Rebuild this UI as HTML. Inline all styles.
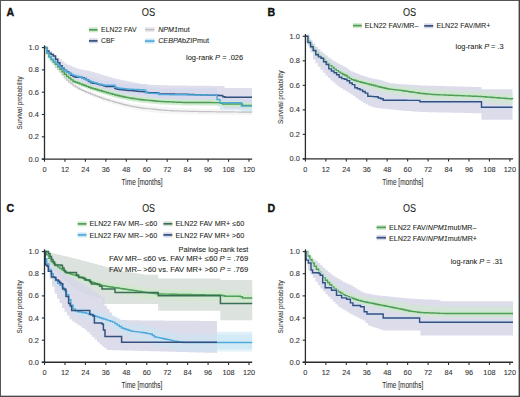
<!DOCTYPE html>
<html><head><meta charset="utf-8"><title>OS Kaplan-Meier</title>
<style>
html,body{margin:0;padding:0;background:#fff;}
body{width:520px;height:397px;overflow:hidden;}
svg{display:block;font-family:"Liberation Sans", sans-serif;}
text{stroke:#3a3a3a;stroke-width:0.08px;paint-order:stroke;}
</style></head><body>
<svg width="520" height="397" viewBox="0 0 520 397">
<rect x="0" y="0" width="520" height="397" fill="#fff"/>
<path d="M44.50 47.60L47.00 47.60L47.00 53.55L49.50 53.55L49.50 57.82L52.00 57.82L52.00 61.16L54.50 61.16L54.50 64.78L57.00 64.78L57.00 67.62L59.50 67.62L59.50 70.26L62.00 70.26L62.00 73.41L64.50 73.41L64.50 76.69L67.00 76.69L67.00 79.11L69.50 79.11L69.50 81.20L72.00 81.20L72.00 83.28L74.50 83.28L74.50 84.84L77.00 84.84L77.00 86.19L79.50 86.19L79.50 87.53L82.00 87.53L82.00 88.63L84.50 88.63L84.50 89.61L87.00 89.61L87.00 90.59L89.50 90.59L89.50 91.57L92.00 91.57L92.00 92.50L94.50 92.50L94.50 93.39L97.00 93.39L97.00 94.29L99.50 94.29L99.50 95.19L102.00 95.19L102.00 96.09L104.50 96.09L104.50 96.86L107.00 96.86L107.00 97.55L109.50 97.55L109.50 98.24L112.00 98.24L112.00 98.92L114.50 98.92L114.50 99.61L117.00 99.61L117.00 100.25L119.50 100.25L119.50 100.86L122.00 100.86L122.00 101.48L124.50 101.48L124.50 102.09L127.00 102.09L127.00 102.70L129.50 102.70L129.50 103.20L132.00 103.20L132.00 103.60L134.50 103.60L134.50 104.00L137.00 104.00L137.00 104.39L139.50 104.39L139.50 104.79L142.00 104.79L142.00 105.12L144.50 105.12L144.50 105.39L147.00 105.39L147.00 105.65L149.50 105.65L149.50 105.91L152.00 105.91L152.00 106.17L154.50 106.17L154.50 106.43L157.00 106.43L157.00 106.69L159.50 106.69L159.50 106.95L162.00 106.95L162.00 107.13L164.50 107.13L164.50 107.30L167.00 107.30L167.00 107.47L169.50 107.47L169.50 107.63L172.00 107.63L172.00 107.80L174.50 107.80L174.50 107.87L177.00 107.87L177.00 107.94L179.50 107.94L179.50 108.01L182.00 108.01L182.00 108.09L184.50 108.09L184.50 108.16L187.00 108.16L187.00 108.23L189.50 108.23L189.50 108.30L192.00 108.30L192.00 108.37L194.50 108.37L194.50 108.44L197.00 108.44L197.00 108.51L199.50 108.51L199.50 108.59L202.00 108.59L202.00 108.62L204.50 108.62L204.50 108.65L207.00 108.65L207.00 108.68L209.50 108.68L209.50 108.71L212.00 108.71L212.00 108.74L214.50 108.74L214.50 108.77L217.00 108.77L217.00 108.80L219.50 108.80L219.50 108.83L222.00 108.83L222.00 108.85L224.50 108.85L224.50 108.88L227.00 108.88L227.00 108.91L229.50 108.91L229.50 108.94L232.00 108.94L232.00 108.97L234.50 108.97L234.50 109.00L237.00 109.00L237.00 109.03L239.50 109.03L239.50 109.06L242.00 109.06L242.00 109.08L244.50 109.08L244.50 109.11L247.00 109.11L247.00 109.14L249.50 109.14L249.50 109.17L252.00 109.17L252.00 109.20L252.00 115.20L252.00 115.17L249.50 115.17L249.50 115.14L247.00 115.14L247.00 115.11L244.50 115.11L244.50 115.08L242.00 115.08L242.00 115.06L239.50 115.06L239.50 115.03L237.00 115.03L237.00 115.00L234.50 115.00L234.50 114.97L232.00 114.97L232.00 114.94L229.50 114.94L229.50 114.91L227.00 114.91L227.00 114.88L224.50 114.88L224.50 114.85L222.00 114.85L222.00 114.83L219.50 114.83L219.50 114.80L217.00 114.80L217.00 114.77L214.50 114.77L214.50 114.74L212.00 114.74L212.00 114.71L209.50 114.71L209.50 114.68L207.00 114.68L207.00 114.65L204.50 114.65L204.50 114.62L202.00 114.62L202.00 114.59L199.50 114.59L199.50 114.51L197.00 114.51L197.00 114.44L194.50 114.44L194.50 114.37L192.00 114.37L192.00 114.30L189.50 114.30L189.50 114.23L187.00 114.23L187.00 114.16L184.50 114.16L184.50 114.09L182.00 114.09L182.00 114.01L179.50 114.01L179.50 113.94L177.00 113.94L177.00 113.87L174.50 113.87L174.50 113.80L172.00 113.80L172.00 113.63L169.50 113.63L169.50 113.47L167.00 113.47L167.00 113.30L164.50 113.30L164.50 113.13L162.00 113.13L162.00 112.95L159.50 112.95L159.50 112.69L157.00 112.69L157.00 112.43L154.50 112.43L154.50 112.17L152.00 112.17L152.00 111.91L149.50 111.91L149.50 111.65L147.00 111.65L147.00 111.39L144.50 111.39L144.50 111.12L142.00 111.12L142.00 110.75L139.50 110.75L139.50 110.28L137.00 110.28L137.00 109.80L134.50 109.80L134.50 109.33L132.00 109.33L132.00 108.86L129.50 108.86L129.50 108.27L127.00 108.27L127.00 107.57L124.50 107.57L124.50 106.88L122.00 106.88L122.00 106.18L119.50 106.18L119.50 105.48L117.00 105.48L117.00 104.74L114.50 104.74L114.50 103.96L112.00 103.96L112.00 103.18L109.50 103.18L109.50 102.40L107.00 102.40L107.00 101.62L104.50 101.62L104.50 100.75L102.00 100.75L102.00 99.74L99.50 99.74L99.50 98.73L97.00 98.73L97.00 97.73L94.50 97.73L94.50 96.72L92.00 96.72L92.00 95.68L89.50 95.68L89.50 94.58L87.00 94.58L87.00 93.48L84.50 93.48L84.50 92.38L82.00 92.38L82.00 91.16L79.50 91.16L79.50 89.68L77.00 89.68L77.00 88.20L74.50 88.20L74.50 86.50L72.00 86.50L72.00 84.26L69.50 84.26L69.50 82.01L67.00 82.01L67.00 79.43L64.50 79.43L64.50 75.97L62.00 75.97L62.00 72.64L59.50 72.64L59.50 69.78L57.00 69.78L57.00 66.72L54.50 66.72L54.50 62.84L52.00 62.84L52.00 59.18L49.50 59.18L49.50 54.37L47.00 54.37L47.00 47.60L44.50 47.60Z" fill="#ececee" fill-opacity="0.50" stroke="none"/>
<path d="M44.50 47.60L47.00 47.60L47.00 52.70L49.50 52.70L49.50 56.04L52.00 56.04L52.00 58.37L54.50 58.37L54.50 60.39L57.00 60.39L57.00 62.59L59.50 62.59L59.50 64.84L62.00 64.84L62.00 66.70L64.50 66.70L64.50 68.45L67.00 68.45L67.00 69.76L69.50 69.76L69.50 70.88L72.00 70.88L72.00 72.00L74.50 72.00L74.50 72.65L77.00 72.65L77.00 73.11L79.50 73.11L79.50 73.87L82.00 73.87L82.00 74.76L84.50 74.76L84.50 75.65L87.00 75.65L87.00 76.56L89.50 76.56L89.50 77.47L92.00 77.47L92.00 78.20L94.50 78.20L94.50 78.84L97.00 78.84L97.00 79.48L99.50 79.48L99.50 80.11L102.00 80.11L102.00 80.75L104.50 80.75L104.50 80.95L107.00 80.95L107.00 80.87L109.50 80.87L109.50 80.78L112.00 80.78L112.00 80.69L114.50 80.69L114.50 82.10L117.00 82.10L117.00 83.26L119.50 83.26L119.50 83.41L122.00 83.41L122.00 83.57L124.50 83.57L124.50 83.73L127.00 83.73L127.00 83.89L129.50 83.89L129.50 84.00L132.00 84.00L132.00 84.06L134.50 84.06L134.50 84.12L137.00 84.12L137.00 84.18L139.50 84.18L139.50 84.24L142.00 84.24L142.00 84.30L144.50 84.30L144.50 84.36L147.00 84.36L147.00 87.63L149.50 87.63L149.50 87.61L152.00 87.61L152.00 87.58L154.50 87.58L154.50 87.56L157.00 87.56L157.00 87.53L159.50 87.53L159.50 88.58L162.00 88.58L162.00 88.54L164.50 88.54L164.50 88.50L167.00 88.50L167.00 88.46L169.50 88.46L169.50 88.42L172.00 88.42L172.00 88.37L174.50 88.37L174.50 88.33L177.00 88.33L177.00 88.29L179.50 88.29L179.50 88.25L182.00 88.25L182.00 88.20L184.50 88.20L184.50 88.17L187.00 88.17L187.00 88.17L189.50 88.17L189.50 88.17L192.00 88.17L192.00 88.18L194.50 88.18L194.50 88.18L197.00 88.18L197.00 88.18L199.50 88.18L199.50 88.18L202.00 88.18L202.00 88.19L204.50 88.19L204.50 88.19L207.00 88.19L207.00 88.19L209.50 88.19L209.50 88.19L212.00 88.19L212.00 88.20L214.50 88.20L214.50 88.20L217.00 88.20L217.00 92.50L219.50 92.50L219.50 92.80L220.00 92.80L220.00 95.70L222.00 95.70L222.00 95.70L224.50 95.70L224.50 95.70L227.00 95.70L227.00 95.70L229.50 95.70L229.50 95.70L232.00 95.70L232.00 95.70L234.50 95.70L234.50 95.70L237.00 95.70L237.00 95.70L239.50 95.70L239.50 95.70L241.50 95.70L241.50 99.10L242.00 99.10L242.00 99.10L244.50 99.10L244.50 99.10L247.00 99.10L247.00 99.10L249.50 99.10L249.50 99.10L252.00 99.10L252.00 99.10L252.00 113.10L252.00 113.10L249.50 113.10L249.50 113.10L247.00 113.10L247.00 113.10L244.50 113.10L244.50 113.10L242.00 113.10L242.00 113.10L241.50 113.10L241.50 109.70L239.50 109.70L239.50 109.70L237.00 109.70L237.00 109.70L234.50 109.70L234.50 109.70L232.00 109.70L232.00 109.70L229.50 109.70L229.50 109.70L227.00 109.70L227.00 109.70L224.50 109.70L224.50 109.70L222.00 109.70L222.00 109.70L220.00 109.70L220.00 106.80L219.50 106.80L219.50 106.50L217.00 106.50L217.00 102.15L214.50 102.15L214.50 102.09L212.00 102.09L212.00 102.03L209.50 102.03L209.50 101.97L207.00 101.97L207.00 101.92L204.50 101.92L204.50 101.86L202.00 101.86L202.00 101.80L199.50 101.80L199.50 101.74L197.00 101.74L197.00 101.68L194.50 101.68L194.50 101.62L192.00 101.62L192.00 101.56L189.50 101.56L189.50 101.50L187.00 101.50L187.00 101.44L184.50 101.44L184.50 101.36L182.00 101.36L182.00 101.28L179.50 101.28L179.50 101.20L177.00 101.20L177.00 101.12L174.50 101.12L174.50 101.03L172.00 101.03L172.00 100.95L169.50 100.95L169.50 100.87L167.00 100.87L167.00 100.79L164.50 100.79L164.50 100.71L162.00 100.71L162.00 100.62L159.50 100.62L159.50 99.44L157.00 99.44L157.00 99.33L154.50 99.33L154.50 99.22L152.00 99.22L152.00 99.11L149.50 99.11L149.50 99.00L147.00 99.00L147.00 95.59L144.50 95.59L144.50 95.38L142.00 95.38L142.00 95.17L139.50 95.17L139.50 94.96L137.00 94.96L137.00 94.76L134.50 94.76L134.50 94.55L132.00 94.55L132.00 94.34L129.50 94.34L129.50 94.08L127.00 94.08L127.00 93.77L124.50 93.77L124.50 93.45L122.00 93.45L122.00 93.13L119.50 93.13L119.50 92.81L117.00 92.81L117.00 91.50L114.50 91.50L114.50 89.91L112.00 89.91L112.00 89.82L109.50 89.82L109.50 89.73L107.00 89.73L107.00 89.65L104.50 89.65L104.50 89.26L102.00 89.26L102.00 88.43L99.50 88.43L99.50 87.60L97.00 87.60L97.00 86.77L94.50 86.77L94.50 85.94L92.00 85.94L92.00 85.00L89.50 85.00L89.50 83.88L87.00 83.88L87.00 82.75L84.50 82.75L84.50 81.63L82.00 81.63L82.00 80.50L79.50 80.50L79.50 79.51L77.00 79.51L77.00 78.80L74.50 78.80L74.50 77.89L72.00 77.89L72.00 76.48L69.50 76.48L69.50 75.07L67.00 75.07L67.00 73.47L64.50 73.47L64.50 71.38L62.00 71.38L62.00 69.18L59.50 69.18L59.50 66.54L57.00 66.54L57.00 63.93L54.50 63.93L54.50 61.43L52.00 61.43L52.00 58.52L49.50 58.52L49.50 54.44L47.00 54.44L47.00 47.60L44.50 47.60Z" fill="#c9e6f4" fill-opacity="0.75" stroke="none"/>
<path d="M44.50 47.60L47.00 47.60L47.00 48.96L49.50 48.96L49.50 50.93L52.00 50.93L52.00 53.33L54.50 53.33L54.50 55.52L57.00 55.52L57.00 57.65L59.50 57.65L59.50 59.62L62.00 59.62L62.00 61.50L64.50 61.50L64.50 63.38L67.00 63.38L67.00 64.63L69.50 64.63L69.50 65.64L72.00 65.64L72.00 66.65L74.50 66.65L74.50 67.66L77.00 67.66L77.00 68.68L79.50 68.68L79.50 69.34L82.00 69.34L82.00 69.83L84.50 69.83L84.50 70.33L87.00 70.33L87.00 70.83L89.50 70.83L89.50 71.32L92.00 71.32L92.00 71.98L94.50 71.98L94.50 72.74L97.00 72.74L97.00 73.49L99.50 73.49L99.50 74.24L102.00 74.24L102.00 75.00L104.50 75.00L104.50 75.74L107.00 75.74L107.00 76.47L109.50 76.47L109.50 77.21L112.00 77.21L112.00 77.94L114.50 77.94L114.50 78.68L117.00 78.68L117.00 79.29L119.50 79.29L119.50 79.80L122.00 79.80L122.00 80.32L124.50 80.32L124.50 80.84L127.00 80.84L127.00 81.35L129.50 81.35L129.50 81.86L132.00 81.86L132.00 82.35L134.50 82.35L134.50 82.85L137.00 82.85L137.00 83.35L139.50 83.35L139.50 83.84L142.00 83.84L142.00 84.17L144.50 84.17L144.50 84.33L147.00 84.33L147.00 84.49L149.50 84.49L149.50 84.64L152.00 84.64L152.00 84.80L154.50 84.80L154.50 84.96L157.00 84.96L157.00 85.11L159.50 85.11L159.50 85.27L162.00 85.27L162.00 85.33L164.50 85.33L164.50 85.36L167.00 85.36L167.00 85.39L169.50 85.39L169.50 85.42L172.00 85.42L172.00 85.45L174.50 85.45L174.50 85.48L177.00 85.48L177.00 85.51L179.50 85.51L179.50 85.54L182.00 85.54L182.00 85.57L184.50 85.57L184.50 85.61L187.00 85.61L187.00 85.63L189.50 85.63L189.50 85.66L192.00 85.66L192.00 85.68L194.50 85.68L194.50 85.71L197.00 85.71L197.00 85.74L199.50 85.74L199.50 85.76L202.00 85.76L202.00 85.79L204.50 85.79L204.50 85.82L207.00 85.82L207.00 85.84L209.50 85.84L209.50 85.87L212.00 85.87L212.00 85.89L214.50 85.89L214.50 85.92L217.00 85.92L217.00 85.95L219.50 85.95L219.50 85.97L222.00 85.97L222.00 86.00L224.50 86.00L224.50 88.00L227.00 88.00L227.00 88.00L229.50 88.00L229.50 88.00L232.00 88.00L232.00 88.00L234.50 88.00L234.50 88.00L237.00 88.00L237.00 88.00L239.50 88.00L239.50 88.00L242.00 88.00L242.00 88.00L244.50 88.00L244.50 88.00L247.00 88.00L247.00 88.00L249.50 88.00L249.50 88.00L252.00 88.00L252.00 88.00L252.00 108.50L252.00 108.50L249.50 108.50L249.50 108.50L247.00 108.50L247.00 108.50L244.50 108.50L244.50 108.50L242.00 108.50L242.00 108.50L239.50 108.50L239.50 108.50L237.00 108.50L237.00 108.50L234.50 108.50L234.50 108.50L232.00 108.50L232.00 108.50L229.50 108.50L229.50 108.50L227.00 108.50L227.00 108.50L224.50 108.50L224.50 105.00L222.00 105.00L222.00 104.87L219.50 104.87L219.50 104.74L217.00 104.74L217.00 104.61L214.50 104.61L214.50 104.47L212.00 104.47L212.00 104.34L209.50 104.34L209.50 104.21L207.00 104.21L207.00 104.08L204.50 104.08L204.50 103.95L202.00 103.95L202.00 103.82L199.50 103.82L199.50 103.68L197.00 103.68L197.00 103.55L194.50 103.55L194.50 103.42L192.00 103.42L192.00 103.29L189.50 103.29L189.50 103.16L187.00 103.16L187.00 103.03L184.50 103.03L184.50 102.88L182.00 102.88L182.00 102.72L179.50 102.72L179.50 102.56L177.00 102.56L177.00 102.41L174.50 102.41L174.50 102.25L172.00 102.25L172.00 102.09L169.50 102.09L169.50 101.94L167.00 101.94L167.00 101.78L164.50 101.78L164.50 101.62L162.00 101.62L162.00 101.45L159.50 101.45L159.50 101.21L157.00 101.21L157.00 100.97L154.50 100.97L154.50 100.73L152.00 100.73L152.00 100.49L149.50 100.49L149.50 100.25L147.00 100.25L147.00 100.01L144.50 100.01L144.50 99.77L142.00 99.77L142.00 99.53L139.50 99.53L139.50 99.29L137.00 99.29L137.00 99.05L134.50 99.05L134.50 98.58L132.00 98.58L132.00 98.06L129.50 98.06L129.50 97.54L127.00 97.54L127.00 97.02L124.50 97.02L124.50 96.50L122.00 96.50L122.00 95.83L119.50 95.83L119.50 95.15L117.00 95.15L117.00 94.48L114.50 94.48L114.50 93.81L112.00 93.81L112.00 93.13L109.50 93.13L109.50 92.38L107.00 92.38L107.00 91.62L104.50 91.62L104.50 90.85L102.00 90.85L102.00 90.08L99.50 90.08L99.50 89.31L97.00 89.31L97.00 88.50L94.50 88.50L94.50 87.67L92.00 87.67L92.00 86.83L89.50 86.83L89.50 86.00L87.00 86.00L87.00 85.17L84.50 85.17L84.50 84.00L82.00 84.00L82.00 82.75L79.50 82.75L79.50 81.50L77.00 81.50L77.00 80.25L74.50 80.25L74.50 79.00L72.00 79.00L72.00 77.12L69.50 77.12L69.50 75.25L67.00 75.25L67.00 73.38L64.50 73.38L64.50 71.50L62.00 71.50L62.00 69.40L59.50 69.40L59.50 66.40L57.00 66.40L57.00 63.40L54.50 63.40L54.50 60.40L52.00 60.40L52.00 57.05L49.50 57.05L49.50 52.33L47.00 52.33L47.00 47.60L44.50 47.60Z" fill="#d6d6e8" fill-opacity="0.80" stroke="none"/>
<path d="M44.50 47.60L47.00 47.60L47.00 53.12L49.50 53.12L49.50 56.75L52.00 56.75L52.00 59.63L54.50 59.63L54.50 62.17L57.00 62.17L57.00 64.86L59.50 64.86L59.50 67.59L62.00 67.59L62.00 70.29L64.50 70.29L64.50 72.98L67.00 72.98L67.00 75.11L69.50 75.11L69.50 77.02L72.00 77.02L72.00 78.93L74.50 78.93L74.50 80.07L77.00 80.07L77.00 80.92L79.50 80.92L79.50 81.76L82.00 81.76L82.00 82.63L84.50 82.63L84.50 83.50L87.00 83.50L87.00 84.37L89.50 84.37L89.50 85.25L92.00 85.25L92.00 85.99L94.50 85.99L94.50 86.67L97.00 86.67L97.00 87.34L99.50 87.34L99.50 88.02L102.00 88.02L102.00 88.69L104.50 88.69L104.50 89.36L107.00 89.36L107.00 90.02L109.50 90.02L109.50 90.68L112.00 90.68L112.00 91.34L114.50 91.34L114.50 92.00L117.00 92.00L117.00 92.58L119.50 92.58L119.50 93.10L122.00 93.10L122.00 93.62L124.50 93.62L124.50 94.13L127.00 94.13L127.00 94.65L129.50 94.65L129.50 95.09L132.00 95.09L132.00 95.44L134.50 95.44L134.50 95.80L137.00 95.80L137.00 96.16L139.50 96.16L139.50 96.51L142.00 96.51L142.00 96.81L144.50 96.81L144.50 97.05L147.00 97.05L147.00 97.28L149.50 97.28L149.50 97.52L152.00 97.52L152.00 97.75L154.50 97.75L154.50 97.98L157.00 97.98L157.00 98.22L159.50 98.22L159.50 98.45L162.00 98.45L162.00 98.58L164.50 98.58L164.50 98.69L167.00 98.69L167.00 98.79L169.50 98.79L169.50 98.90L172.00 98.90L172.00 99.00L174.50 99.00L174.50 99.10L177.00 99.10L177.00 99.21L179.50 99.21L179.50 99.31L182.00 99.31L182.00 99.42L184.50 99.42L184.50 99.50L187.00 99.50L187.00 99.51L189.50 99.51L189.50 99.52L192.00 99.52L192.00 99.52L194.50 99.52L194.50 99.53L197.00 99.53L197.00 99.54L199.50 99.54L199.50 99.54L202.00 99.54L202.00 99.55L204.50 99.55L204.50 99.56L207.00 99.56L207.00 99.56L209.50 99.56L209.50 99.57L212.00 99.57L212.00 99.58L214.50 99.58L214.50 99.58L217.00 99.58L217.00 99.59L219.50 99.59L219.50 99.60L222.00 99.60L222.00 101.00L224.50 101.00L224.50 101.00L227.00 101.00L227.00 101.00L229.50 101.00L229.50 101.00L232.00 101.00L232.00 101.00L234.50 101.00L234.50 101.00L237.00 101.00L237.00 101.00L239.50 101.00L239.50 101.00L242.00 101.00L242.00 102.40L244.50 102.40L244.50 102.40L247.00 102.40L247.00 102.40L249.50 102.40L249.50 102.40L252.00 102.40L252.00 102.40L252.00 108.40L252.00 108.40L249.50 108.40L249.50 108.40L247.00 108.40L247.00 108.40L244.50 108.40L244.50 108.40L242.00 108.40L242.00 107.00L239.50 107.00L239.50 107.00L237.00 107.00L237.00 107.00L234.50 107.00L234.50 107.00L232.00 107.00L232.00 107.00L229.50 107.00L229.50 107.00L227.00 107.00L227.00 107.00L224.50 107.00L224.50 107.00L222.00 107.00L222.00 105.60L219.50 105.60L219.50 105.59L217.00 105.59L217.00 105.58L214.50 105.58L214.50 105.58L212.00 105.58L212.00 105.57L209.50 105.57L209.50 105.56L207.00 105.56L207.00 105.56L204.50 105.56L204.50 105.55L202.00 105.55L202.00 105.54L199.50 105.54L199.50 105.54L197.00 105.54L197.00 105.53L194.50 105.53L194.50 105.52L192.00 105.52L192.00 105.52L189.50 105.52L189.50 105.51L187.00 105.51L187.00 105.50L184.50 105.50L184.50 105.42L182.00 105.42L182.00 105.31L179.50 105.31L179.50 105.21L177.00 105.21L177.00 105.10L174.50 105.10L174.50 105.00L172.00 105.00L172.00 104.90L169.50 104.90L169.50 104.79L167.00 104.79L167.00 104.69L164.50 104.69L164.50 104.58L162.00 104.58L162.00 104.45L159.50 104.45L159.50 104.22L157.00 104.22L157.00 103.98L154.50 103.98L154.50 103.75L152.00 103.75L152.00 103.52L149.50 103.52L149.50 103.28L147.00 103.28L147.00 103.05L144.50 103.05L144.50 102.81L142.00 102.81L142.00 102.51L139.50 102.51L139.50 102.16L137.00 102.16L137.00 101.80L134.50 101.80L134.50 101.44L132.00 101.44L132.00 101.09L129.50 101.09L129.50 100.63L127.00 100.63L127.00 100.08L124.50 100.08L124.50 99.53L122.00 99.53L122.00 98.97L119.50 98.97L119.50 98.42L117.00 98.42L117.00 97.77L114.50 97.77L114.50 97.01L112.00 97.01L112.00 96.24L109.50 96.24L109.50 95.47L107.00 95.47L107.00 94.70L104.50 94.70L104.50 93.92L102.00 93.92L102.00 93.13L99.50 93.13L99.50 92.34L97.00 92.34L97.00 91.54L94.50 91.54L94.50 90.75L92.00 90.75L92.00 89.88L89.50 89.88L89.50 88.87L87.00 88.87L87.00 87.86L84.50 87.86L84.50 86.85L82.00 86.85L82.00 85.85L79.50 85.85L79.50 84.85L77.00 84.85L77.00 83.85L74.50 83.85L74.50 82.55L72.00 82.55L72.00 80.46L69.50 80.46L69.50 78.37L67.00 78.37L67.00 76.06L64.50 76.06L64.50 73.17L62.00 73.17L62.00 70.26L59.50 70.26L59.50 67.29L57.00 67.29L57.00 64.34L54.50 64.34L54.50 61.51L52.00 61.51L52.00 58.27L49.50 58.27L49.50 54.18L47.00 54.18L47.00 47.60L44.50 47.60Z" fill="#cfe9cc" fill-opacity="0.85" stroke="none"/>
<path d="M44.50 47.60L46.70 47.60L46.70 53.19L48.90 53.19L48.90 57.70L51.10 57.70L51.10 60.65L53.30 60.65L53.30 63.95L55.50 63.95L55.50 67.05L57.70 67.05L57.70 69.47L59.90 69.47L59.90 71.89L62.10 71.89L62.10 74.83L64.30 74.83L64.30 77.79L66.50 77.79L66.50 80.13L68.70 80.13L68.70 82.03L70.90 82.03L70.90 83.94L73.10 83.94L73.10 85.73L75.30 85.73L75.30 86.97L77.50 86.97L77.50 88.22L79.70 88.22L79.70 89.46L81.90 89.46L81.90 90.47L84.10 90.47L84.10 91.38L86.30 91.38L86.30 92.30L88.50 92.30L88.50 93.21L90.70 93.21L90.70 94.11L92.90 94.11L92.90 94.95L95.10 94.95L95.10 95.79L97.30 95.79L97.30 96.63L99.50 96.63L99.50 97.47L101.70 97.47L101.70 98.30L103.90 98.30L103.90 99.06L106.10 99.06L106.10 99.71L108.30 99.71L108.30 100.36L110.50 100.36L110.50 101.00L112.70 101.00L112.70 101.65L114.90 101.65L114.90 102.29L117.10 102.29L117.10 102.89L119.30 102.89L119.30 103.47L121.50 103.47L121.50 104.05L123.70 104.05L123.70 104.62L125.90 104.62L125.90 105.20L128.10 105.20L128.10 105.77L130.30 105.77L130.30 106.17L132.50 106.17L132.50 106.55L134.70 106.55L134.70 106.93L136.90 106.93L136.90 107.32L139.10 107.32L139.10 107.70L141.30 107.70L141.30 108.05L143.50 108.05L143.50 108.28L145.70 108.28L145.70 108.51L147.90 108.51L147.90 108.74L150.10 108.74L150.10 108.97L152.30 108.97L152.30 109.20L154.50 109.20L154.50 109.43L156.70 109.43L156.70 109.66L158.90 109.66L158.90 109.89L161.10 109.89L161.10 110.07L163.30 110.07L163.30 110.22L165.50 110.22L165.50 110.37L167.70 110.37L167.70 110.51L169.90 110.51L169.90 110.66L172.10 110.66L172.10 110.80L174.30 110.80L174.30 110.87L176.50 110.87L176.50 110.93L178.70 110.93L178.70 110.99L180.90 110.99L180.90 111.05L183.10 111.05L183.10 111.12L185.30 111.12L185.30 111.18L187.50 111.18L187.50 111.24L189.70 111.24L189.70 111.31L191.90 111.31L191.90 111.37L194.10 111.37L194.10 111.43L196.30 111.43L196.30 111.49L198.50 111.49L198.50 111.56L200.70 111.56L200.70 111.61L202.90 111.61L202.90 111.63L205.10 111.63L205.10 111.66L207.30 111.66L207.30 111.68L209.50 111.68L209.50 111.71L211.70 111.71L211.70 111.73L213.90 111.73L213.90 111.76L216.10 111.76L216.10 111.79L218.30 111.79L218.30 111.81L220.50 111.81L220.50 111.84L222.70 111.84L222.70 111.86L224.90 111.86L224.90 111.89L227.10 111.89L227.10 111.91L229.30 111.91L229.30 111.94L231.50 111.94L231.50 111.96L233.70 111.96L233.70 111.99L235.90 111.99L235.90 112.01L238.10 112.01L238.10 112.04L240.30 112.04L240.30 112.06L242.50 112.06L242.50 112.09L244.70 112.09L244.70 112.12L246.90 112.12L246.90 112.14L249.10 112.14L249.10 112.17L251.30 112.17L251.30 112.19L252.00 112.19L252.00 112.20" fill="none" stroke="#c4c1c6" stroke-width="1.20" stroke-linejoin="miter" />
<path d="M44.50 47.60L46.70 47.60L46.70 52.98L48.90 52.98L48.90 56.72L51.10 56.72L51.10 59.61L53.30 59.61L53.30 61.97L55.50 61.97L55.50 64.36L57.70 64.36L57.70 66.87L59.90 66.87L59.90 69.39L62.10 69.39L62.10 71.84L64.30 71.84L64.30 74.30L66.50 74.30L66.50 76.34L68.70 76.34L68.70 78.10L70.90 78.10L70.90 79.86L73.10 79.86L73.10 81.45L75.30 81.45L75.30 82.26L77.50 82.26L77.50 83.07L79.70 83.07L79.70 83.88L81.90 83.88L81.90 84.70L84.10 84.70L84.10 85.53L86.30 85.53L86.30 86.36L88.50 86.36L88.50 87.19L90.70 87.19L90.70 87.99L92.90 87.99L92.90 88.63L95.10 88.63L95.10 89.28L97.30 89.28L97.30 89.93L99.50 89.93L99.50 90.57L101.70 90.57L101.70 91.22L103.90 91.22L103.90 91.86L106.10 91.86L106.10 92.49L108.30 92.49L108.30 93.11L110.50 93.11L110.50 93.74L112.70 93.74L112.70 94.37L114.90 94.37L114.90 95.00L117.10 95.00L117.10 95.52L119.30 95.52L119.30 95.99L121.50 95.99L121.50 96.46L123.70 96.46L123.70 96.94L125.90 96.94L125.90 97.41L128.10 97.41L128.10 97.88L130.30 97.88L130.30 98.20L132.50 98.20L132.50 98.51L134.70 98.51L134.70 98.83L136.90 98.83L136.90 99.14L139.10 99.14L139.10 99.46L141.30 99.46L141.30 99.75L143.50 99.75L143.50 99.95L145.70 99.95L145.70 100.16L147.90 100.16L147.90 100.37L150.10 100.37L150.10 100.57L152.30 100.57L152.30 100.78L154.50 100.78L154.50 100.98L156.70 100.98L156.70 101.19L158.90 101.19L158.90 101.40L161.10 101.40L161.10 101.55L163.30 101.55L163.30 101.64L165.50 101.64L165.50 101.73L167.70 101.73L167.70 101.82L169.90 101.82L169.90 101.91L172.10 101.91L172.10 102.00L174.30 102.00L174.30 102.10L176.50 102.10L176.50 102.19L178.70 102.19L178.70 102.28L180.90 102.28L180.90 102.37L183.10 102.37L183.10 102.46L185.30 102.46L185.30 102.50L187.50 102.50L187.50 102.51L189.70 102.51L189.70 102.52L191.90 102.52L191.90 102.52L194.10 102.52L194.10 102.53L196.30 102.53L196.30 102.53L198.50 102.53L198.50 102.54L200.70 102.54L200.70 102.55L202.90 102.55L202.90 102.55L205.10 102.55L205.10 102.56L207.30 102.56L207.30 102.56L209.50 102.56L209.50 102.57L211.70 102.57L211.70 102.58L213.90 102.58L213.90 102.58L216.10 102.58L216.10 102.59L218.30 102.59L218.30 102.60L220.50 102.60L220.50 103.30L222.70 103.30L222.70 104.00L224.90 104.00L224.90 104.00L227.10 104.00L227.10 104.00L229.30 104.00L229.30 104.00L231.50 104.00L231.50 104.00L233.70 104.00L233.70 104.00L235.90 104.00L235.90 104.00L238.10 104.00L238.10 104.00L240.30 104.00L240.30 104.00L242.50 104.00L242.50 105.40L244.70 105.40L244.70 105.40L246.90 105.40L246.90 105.40L249.10 105.40L249.10 105.40L251.30 105.40L251.30 105.40L252.00 105.40L252.00 105.40" fill="none" stroke="#c4eac4" stroke-width="3.80" stroke-opacity="0.7" stroke-linejoin="round"/><path d="M44.50 47.60L46.70 47.60L46.70 52.98L48.90 52.98L48.90 56.72L51.10 56.72L51.10 59.61L53.30 59.61L53.30 61.97L55.50 61.97L55.50 64.36L57.70 64.36L57.70 66.87L59.90 66.87L59.90 69.39L62.10 69.39L62.10 71.84L64.30 71.84L64.30 74.30L66.50 74.30L66.50 76.34L68.70 76.34L68.70 78.10L70.90 78.10L70.90 79.86L73.10 79.86L73.10 81.45L75.30 81.45L75.30 82.26L77.50 82.26L77.50 83.07L79.70 83.07L79.70 83.88L81.90 83.88L81.90 84.70L84.10 84.70L84.10 85.53L86.30 85.53L86.30 86.36L88.50 86.36L88.50 87.19L90.70 87.19L90.70 87.99L92.90 87.99L92.90 88.63L95.10 88.63L95.10 89.28L97.30 89.28L97.30 89.93L99.50 89.93L99.50 90.57L101.70 90.57L101.70 91.22L103.90 91.22L103.90 91.86L106.10 91.86L106.10 92.49L108.30 92.49L108.30 93.11L110.50 93.11L110.50 93.74L112.70 93.74L112.70 94.37L114.90 94.37L114.90 95.00L117.10 95.00L117.10 95.52L119.30 95.52L119.30 95.99L121.50 95.99L121.50 96.46L123.70 96.46L123.70 96.94L125.90 96.94L125.90 97.41L128.10 97.41L128.10 97.88L130.30 97.88L130.30 98.20L132.50 98.20L132.50 98.51L134.70 98.51L134.70 98.83L136.90 98.83L136.90 99.14L139.10 99.14L139.10 99.46L141.30 99.46L141.30 99.75L143.50 99.75L143.50 99.95L145.70 99.95L145.70 100.16L147.90 100.16L147.90 100.37L150.10 100.37L150.10 100.57L152.30 100.57L152.30 100.78L154.50 100.78L154.50 100.98L156.70 100.98L156.70 101.19L158.90 101.19L158.90 101.40L161.10 101.40L161.10 101.55L163.30 101.55L163.30 101.64L165.50 101.64L165.50 101.73L167.70 101.73L167.70 101.82L169.90 101.82L169.90 101.91L172.10 101.91L172.10 102.00L174.30 102.00L174.30 102.10L176.50 102.10L176.50 102.19L178.70 102.19L178.70 102.28L180.90 102.28L180.90 102.37L183.10 102.37L183.10 102.46L185.30 102.46L185.30 102.50L187.50 102.50L187.50 102.51L189.70 102.51L189.70 102.52L191.90 102.52L191.90 102.52L194.10 102.52L194.10 102.53L196.30 102.53L196.30 102.53L198.50 102.53L198.50 102.54L200.70 102.54L200.70 102.55L202.90 102.55L202.90 102.55L205.10 102.55L205.10 102.56L207.30 102.56L207.30 102.56L209.50 102.56L209.50 102.57L211.70 102.57L211.70 102.58L213.90 102.58L213.90 102.58L216.10 102.58L216.10 102.59L218.30 102.59L218.30 102.60L220.50 102.60L220.50 103.30L222.70 103.30L222.70 104.00L224.90 104.00L224.90 104.00L227.10 104.00L227.10 104.00L229.30 104.00L229.30 104.00L231.50 104.00L231.50 104.00L233.70 104.00L233.70 104.00L235.90 104.00L235.90 104.00L238.10 104.00L238.10 104.00L240.30 104.00L240.30 104.00L242.50 104.00L242.50 105.40L244.70 105.40L244.70 105.40L246.90 105.40L246.90 105.40L249.10 105.40L249.10 105.40L251.30 105.40L251.30 105.40L252.00 105.40L252.00 105.40" fill="none" stroke="#4f9d58" stroke-width="1.40" stroke-linejoin="miter" />
<path d="M44.50 47.60L46.70 47.60L46.70 50.98L48.90 50.98L48.90 53.36L51.10 53.36L51.10 54.47L53.30 54.47L53.30 56.09L55.50 56.09L55.50 59.31L57.70 59.31L57.70 62.84L59.90 62.84L59.90 65.86L62.10 65.86L62.10 68.33L64.30 68.33L64.30 70.18L66.50 70.18L66.50 71.81L68.70 71.81L68.70 73.46L70.90 73.46L70.90 75.13L73.10 75.13L73.10 76.62L75.30 76.62L75.30 77.30L77.50 77.30L77.50 77.30L79.70 77.30L79.70 77.30L81.90 77.30L81.90 77.84L84.10 77.84L84.10 78.59L86.30 78.59L86.30 79.75L88.50 79.75L88.50 81.38L90.70 81.38L90.70 82.85L92.90 82.85L92.90 83.23L95.10 83.23L95.10 83.61L97.30 83.61L97.30 84.00L99.50 84.00L99.50 84.63L101.70 84.63L101.70 85.35L103.90 85.35L103.90 86.07L106.10 86.07L106.10 86.60L108.30 86.60L108.30 86.60L110.50 86.60L110.50 86.60L112.70 86.60L112.70 86.60L114.90 86.60L114.90 88.43L117.10 88.43L117.10 89.25L119.30 89.25L119.30 89.48L121.50 89.48L121.50 89.71L123.70 89.71L123.70 89.94L125.90 89.94L125.90 90.16L128.10 90.16L128.10 90.39L130.30 90.39L130.30 90.60L132.50 90.60L132.50 90.81L134.70 90.81L134.70 91.02L136.90 91.02L136.90 91.23L139.10 91.23L139.10 91.44L141.30 91.44L141.30 91.62L143.50 91.62L143.50 91.73L145.70 91.73L145.70 92.43L147.90 92.43L147.90 92.73L150.10 92.73L150.10 92.77L152.30 92.77L152.30 92.81L154.50 92.81L154.50 92.85L156.70 92.85L156.70 92.89L158.90 92.89L158.90 93.91L161.10 93.91L161.10 93.95L163.30 93.95L163.30 93.98L165.50 93.98L165.50 94.02L167.70 94.02L167.70 94.05L169.90 94.05L169.90 94.08L172.10 94.08L172.10 94.12L174.30 94.12L174.30 94.15L176.50 94.15L176.50 94.18L178.70 94.18L178.70 94.22L180.90 94.22L180.90 94.25L183.10 94.25L183.10 94.29L185.30 94.29L185.30 94.35L187.50 94.35L187.50 94.43L189.70 94.43L189.70 94.51L191.90 94.51L191.90 94.60L194.10 94.60L194.10 94.68L196.30 94.68L196.30 94.76L198.50 94.76L198.50 94.84L200.70 94.84L200.70 94.93L202.90 94.93L202.90 95.01L205.10 95.01L205.10 95.09L207.30 95.09L207.30 95.17L209.50 95.17L209.50 95.23L211.70 95.23L211.70 95.28L213.90 95.28L213.90 95.33L216.10 95.33L216.10 95.37L218.30 95.37L218.30 95.42L220.50 95.42L220.50 95.47L222.70 95.47L222.70 96.76L224.90 96.76L224.90 97.30L227.10 97.30L227.10 97.30L229.30 97.30L229.30 97.30L231.50 97.30L231.50 97.30L233.70 97.30L233.70 97.30L235.90 97.30L235.90 97.30L238.10 97.30L238.10 97.30L240.30 97.30L240.30 97.30L242.50 97.30L242.50 97.30L244.70 97.30L244.70 97.30L246.90 97.30L246.90 97.30L249.10 97.30L249.10 97.30L251.30 97.30L251.30 97.30L252.00 97.30L252.00 97.30" fill="none" stroke="#34507f" stroke-width="1.50" stroke-linejoin="miter" />
<path d="M44.50 47.60L46.70 47.60L46.70 52.81L48.90 52.81L48.90 56.59L51.10 56.59L51.10 59.09L53.30 59.09L53.30 61.08L55.50 61.08L55.50 63.09L57.70 63.09L57.70 65.25L59.90 65.25L59.90 67.40L62.10 67.40L62.10 69.12L64.30 69.12L64.30 70.81L66.50 70.81L66.50 72.16L68.70 72.16L68.70 73.27L70.90 73.27L70.90 74.39L73.10 74.39L73.10 75.39L75.30 75.39L75.30 75.91L77.50 75.91L77.50 76.43L79.70 76.43L79.70 77.27L81.90 77.27L81.90 78.15L84.10 78.15L84.10 79.04L86.30 79.04L86.30 79.93L88.50 79.93L88.50 80.83L90.70 80.83L90.70 81.69L92.90 81.69L92.90 82.33L95.10 82.33L95.10 82.98L97.30 82.98L97.30 83.63L99.50 83.63L99.50 84.27L101.70 84.27L101.70 84.92L103.90 84.92L103.90 85.30L106.10 85.30L106.10 85.30L108.30 85.30L108.30 85.30L110.50 85.30L110.50 85.30L112.70 85.30L112.70 85.30L114.90 85.30L114.90 87.20L117.10 87.20L117.10 88.04L119.30 88.04L119.30 88.25L121.50 88.25L121.50 88.46L123.70 88.46L123.70 88.67L125.90 88.67L125.90 88.88L128.10 88.88L128.10 89.09L130.30 89.09L130.30 89.21L132.50 89.21L132.50 89.33L134.70 89.33L134.70 89.45L136.90 89.45L136.90 89.57L139.10 89.57L139.10 89.68L141.30 89.68L141.30 89.80L143.50 89.80L143.50 89.92L145.70 89.92L145.70 92.31L147.90 92.31L147.90 93.33L150.10 93.33L150.10 93.37L152.30 93.37L152.30 93.41L154.50 93.41L154.50 93.44L156.70 93.44L156.70 93.48L158.90 93.48L158.90 94.49L161.10 94.49L161.10 94.62L163.30 94.62L163.30 94.63L165.50 94.63L165.50 94.65L167.70 94.65L167.70 94.67L169.90 94.67L169.90 94.69L172.10 94.69L172.10 94.70L174.30 94.70L174.30 94.72L176.50 94.72L176.50 94.74L178.70 94.74L178.70 94.76L180.90 94.76L180.90 94.78L183.10 94.78L183.10 94.79L185.30 94.79L185.30 94.82L187.50 94.82L187.50 94.84L189.70 94.84L189.70 94.87L191.90 94.87L191.90 94.90L194.10 94.90L194.10 94.92L196.30 94.92L196.30 94.95L198.50 94.95L198.50 94.98L200.70 94.98L200.70 95.01L202.90 95.01L202.90 95.03L205.10 95.03L205.10 95.06L207.30 95.06L207.30 95.09L209.50 95.09L209.50 95.11L211.70 95.11L211.70 95.14L213.90 95.14L213.90 95.17L216.10 95.17L216.10 95.20L217.00 95.20L217.00 99.50L218.30 99.50L218.30 99.66L220.00 99.66L220.00 102.70L220.50 102.70L220.50 102.70L222.70 102.70L222.70 102.70L224.90 102.70L224.90 102.70L227.10 102.70L227.10 102.70L229.30 102.70L229.30 102.70L231.50 102.70L231.50 102.70L233.70 102.70L233.70 102.70L235.90 102.70L235.90 102.70L238.10 102.70L238.10 102.70L240.30 102.70L240.30 102.70L241.50 102.70L241.50 106.10L242.50 106.10L242.50 106.10L244.70 106.10L244.70 106.10L246.90 106.10L246.90 106.10L249.10 106.10L249.10 106.10L251.30 106.10L251.30 106.10L252.00 106.10L252.00 106.10" fill="none" stroke="#4eaadb" stroke-width="1.40" stroke-linejoin="miter" />
<line x1="44.50" y1="45.40" x2="44.50" y2="159.75" stroke="#2b2b2b" stroke-width="1.3"/>
<line x1="41.80" y1="159.10" x2="252.20" y2="159.10" stroke="#2b2b2b" stroke-width="1.4"/>
<line x1="41.80" y1="159.10" x2="44.50" y2="159.10" stroke="#2b2b2b" stroke-width="1.1"/>
<text x="38.90" y="161.65" font-size="7.40" text-anchor="end" fill="#333" font-weight="normal" >0.0</text>
<line x1="41.80" y1="136.80" x2="44.50" y2="136.80" stroke="#2b2b2b" stroke-width="1.1"/>
<text x="38.90" y="139.35" font-size="7.40" text-anchor="end" fill="#333" font-weight="normal" >0.2</text>
<line x1="41.80" y1="114.50" x2="44.50" y2="114.50" stroke="#2b2b2b" stroke-width="1.1"/>
<text x="38.90" y="117.05" font-size="7.40" text-anchor="end" fill="#333" font-weight="normal" >0.4</text>
<line x1="41.80" y1="92.20" x2="44.50" y2="92.20" stroke="#2b2b2b" stroke-width="1.1"/>
<text x="38.90" y="94.75" font-size="7.40" text-anchor="end" fill="#333" font-weight="normal" >0.6</text>
<line x1="41.80" y1="69.90" x2="44.50" y2="69.90" stroke="#2b2b2b" stroke-width="1.1"/>
<text x="38.90" y="72.45" font-size="7.40" text-anchor="end" fill="#333" font-weight="normal" >0.8</text>
<line x1="41.80" y1="47.60" x2="44.50" y2="47.60" stroke="#2b2b2b" stroke-width="1.1"/>
<text x="38.90" y="50.15" font-size="7.40" text-anchor="end" fill="#333" font-weight="normal" >1.0</text>
<line x1="44.50" y1="159.10" x2="44.50" y2="161.70" stroke="#2b2b2b" stroke-width="1.1"/>
<text x="44.50" y="171.80" font-size="7.30" text-anchor="middle" fill="#333" font-weight="normal" >0</text>
<line x1="64.95" y1="159.10" x2="64.95" y2="161.70" stroke="#2b2b2b" stroke-width="1.1"/>
<text x="64.95" y="171.80" font-size="7.30" text-anchor="middle" fill="#333" font-weight="normal" >12</text>
<line x1="85.40" y1="159.10" x2="85.40" y2="161.70" stroke="#2b2b2b" stroke-width="1.1"/>
<text x="85.40" y="171.80" font-size="7.30" text-anchor="middle" fill="#333" font-weight="normal" >24</text>
<line x1="105.85" y1="159.10" x2="105.85" y2="161.70" stroke="#2b2b2b" stroke-width="1.1"/>
<text x="105.85" y="171.80" font-size="7.30" text-anchor="middle" fill="#333" font-weight="normal" >36</text>
<line x1="126.30" y1="159.10" x2="126.30" y2="161.70" stroke="#2b2b2b" stroke-width="1.1"/>
<text x="126.30" y="171.80" font-size="7.30" text-anchor="middle" fill="#333" font-weight="normal" >48</text>
<line x1="146.75" y1="159.10" x2="146.75" y2="161.70" stroke="#2b2b2b" stroke-width="1.1"/>
<text x="146.75" y="171.80" font-size="7.30" text-anchor="middle" fill="#333" font-weight="normal" >60</text>
<line x1="167.20" y1="159.10" x2="167.20" y2="161.70" stroke="#2b2b2b" stroke-width="1.1"/>
<text x="167.20" y="171.80" font-size="7.30" text-anchor="middle" fill="#333" font-weight="normal" >72</text>
<line x1="187.65" y1="159.10" x2="187.65" y2="161.70" stroke="#2b2b2b" stroke-width="1.1"/>
<text x="187.65" y="171.80" font-size="7.30" text-anchor="middle" fill="#333" font-weight="normal" >84</text>
<line x1="208.10" y1="159.10" x2="208.10" y2="161.70" stroke="#2b2b2b" stroke-width="1.1"/>
<text x="208.10" y="171.80" font-size="7.30" text-anchor="middle" fill="#333" font-weight="normal" >96</text>
<line x1="228.55" y1="159.10" x2="228.55" y2="161.70" stroke="#2b2b2b" stroke-width="1.1"/>
<text x="228.55" y="171.80" font-size="7.30" text-anchor="middle" fill="#333" font-weight="normal" >108</text>
<line x1="249.00" y1="159.10" x2="249.00" y2="161.70" stroke="#2b2b2b" stroke-width="1.1"/>
<text x="249.00" y="171.80" font-size="7.30" text-anchor="middle" fill="#333" font-weight="normal" >120</text>
<path d="M305.40 36.30L307.90 36.30L307.90 38.31L310.40 38.31L310.40 40.48L312.90 40.48L312.90 43.48L315.40 43.48L315.40 46.41L317.90 46.41L317.90 48.96L320.40 48.96L320.40 51.42L322.90 51.42L322.90 53.42L325.40 53.42L325.40 55.42L327.90 55.42L327.90 57.42L330.40 57.42L330.40 59.35L332.90 59.35L332.90 60.90L335.40 60.90L335.40 62.43L337.90 62.43L337.90 63.87L340.40 63.87L340.40 65.30L342.90 65.30L342.90 66.49L345.40 66.49L345.40 67.79L347.90 67.79L347.90 69.59L350.40 69.59L350.40 71.26L352.90 71.26L352.90 72.27L355.40 72.27L355.40 73.27L357.90 73.27L357.90 74.28L360.40 74.28L360.40 75.26L362.90 75.26L362.90 76.01L365.40 76.01L365.40 76.76L367.90 76.76L367.90 77.51L370.40 77.51L370.40 78.24L372.90 78.24L372.90 78.75L375.40 78.75L375.40 79.26L377.90 79.26L377.90 79.77L380.40 79.77L380.40 80.34L382.90 80.34L382.90 81.21L385.40 81.21L385.40 82.09L387.90 82.09L387.90 82.96L390.40 82.96L390.40 83.22L392.90 83.22L392.90 83.46L395.40 83.46L395.40 83.69L397.90 83.69L397.90 83.93L400.40 83.93L400.40 84.16L402.90 84.16L402.90 84.33L405.40 84.33L405.40 84.49L407.90 84.49L407.90 84.64L410.40 84.64L410.40 84.80L412.90 84.80L412.90 84.96L415.40 84.96L415.40 85.11L417.90 85.11L417.90 85.27L420.40 85.27L420.40 85.41L422.90 85.41L422.90 85.49L425.40 85.49L425.40 85.56L427.90 85.56L427.90 85.63L430.40 85.63L430.40 85.71L432.90 85.71L432.90 85.78L435.40 85.78L435.40 85.85L437.90 85.85L437.90 85.93L440.40 85.93L440.40 86.00L442.90 86.00L442.90 86.08L445.40 86.08L445.40 86.15L447.90 86.15L447.90 86.22L450.40 86.22L450.40 86.30L452.90 86.30L452.90 86.37L455.40 86.37L455.40 86.44L457.90 86.44L457.90 86.52L460.40 86.52L460.40 86.59L462.90 86.59L462.90 86.67L465.40 86.67L465.40 86.74L467.90 86.74L467.90 86.81L470.40 86.81L470.40 86.89L472.90 86.89L472.90 86.96L475.40 86.96L475.40 87.03L477.90 87.03L477.90 87.11L480.40 87.11L480.40 87.18L481.50 87.18L481.50 89.30L482.90 89.30L482.90 89.30L485.40 89.30L485.40 89.30L487.90 89.30L487.90 89.30L490.40 89.30L490.40 89.30L492.90 89.30L492.90 89.30L495.40 89.30L495.40 89.30L497.90 89.30L497.90 89.30L500.40 89.30L500.40 89.30L502.90 89.30L502.90 89.30L505.40 89.30L505.40 89.30L507.90 89.30L507.90 89.30L510.40 89.30L510.40 89.30L512.50 89.30L512.50 89.30L512.50 119.80L512.50 119.80L510.40 119.80L510.40 119.80L507.90 119.80L507.90 119.80L505.40 119.80L505.40 119.80L502.90 119.80L502.90 119.80L500.40 119.80L500.40 119.80L497.90 119.80L497.90 119.80L495.40 119.80L495.40 119.80L492.90 119.80L492.90 119.80L490.40 119.80L490.40 119.80L487.90 119.80L487.90 119.80L485.40 119.80L485.40 119.80L482.90 119.80L482.90 119.80L481.50 119.80L481.50 113.29L480.40 113.29L480.40 113.23L477.90 113.23L477.90 113.18L475.40 113.18L475.40 113.13L472.90 113.13L472.90 113.07L470.40 113.07L470.40 113.02L467.90 113.02L467.90 112.97L465.40 112.97L465.40 112.91L462.90 112.91L462.90 112.86L460.40 112.86L460.40 112.81L457.90 112.81L457.90 112.75L455.40 112.75L455.40 112.70L452.90 112.70L452.90 112.65L450.40 112.65L450.40 112.59L447.90 112.59L447.90 112.54L445.40 112.54L445.40 112.49L442.90 112.49L442.90 112.43L440.40 112.43L440.40 112.38L437.90 112.38L437.90 112.33L435.40 112.33L435.40 112.27L432.90 112.27L432.90 112.22L430.40 112.22L430.40 112.17L427.90 112.17L427.90 112.12L425.40 112.12L425.40 112.06L422.90 112.06L422.90 112.01L420.40 112.01L420.40 111.85L417.90 111.85L417.90 111.66L415.40 111.66L415.40 111.48L412.90 111.48L412.90 111.30L410.40 111.30L410.40 111.12L407.90 111.12L407.90 110.94L405.40 110.94L405.40 110.75L402.90 110.75L402.90 110.56L400.40 110.56L400.40 110.31L397.90 110.31L397.90 110.05L395.40 110.05L395.40 109.80L392.90 109.80L392.90 109.54L390.40 109.54L390.40 109.29L387.90 109.29L387.90 109.03L385.40 109.03L385.40 108.77L382.90 108.77L382.90 108.50L380.40 108.50L380.40 108.24L377.90 108.24L377.90 107.94L375.40 107.94L375.40 107.18L372.90 107.18L372.90 106.42L370.40 106.42L370.40 105.45L367.90 105.45L367.90 104.20L365.40 104.20L365.40 102.94L362.90 102.94L362.90 101.33L360.40 101.33L360.40 99.72L357.90 99.72L357.90 98.04L355.40 98.04L355.40 96.12L352.90 96.12L352.90 94.20L350.40 94.20L350.40 92.75L347.90 92.75L347.90 91.31L345.40 91.31L345.40 89.83L342.90 89.83L342.90 88.29L340.40 88.29L340.40 86.76L337.90 86.76L337.90 84.69L335.40 84.69L335.40 82.59L332.90 82.59L332.90 80.43L330.40 80.43L330.40 78.05L327.90 78.05L327.90 75.68L325.40 75.68L325.40 72.81L322.90 72.81L322.90 69.85L320.40 69.85L320.40 66.85L317.90 66.85L317.90 63.15L315.40 63.15L315.40 59.44L312.90 59.44L312.90 52.30L310.40 52.30L310.40 44.67L307.90 44.67L307.90 36.30L305.40 36.30Z" fill="#d6d6e8" fill-opacity="0.85" stroke="none"/>
<path d="M305.40 36.30L307.90 36.30L307.90 40.79L310.40 40.79L310.40 44.53L312.90 44.53L312.90 47.86L315.40 47.86L315.40 51.02L317.90 51.02L317.90 53.30L320.40 53.30L320.40 55.57L322.90 55.57L322.90 57.73L325.40 57.73L325.40 59.88L327.90 59.88L327.90 61.96L330.40 61.96L330.40 64.03L332.90 64.03L332.90 65.91L335.40 65.91L335.40 67.76L337.90 67.76L337.90 69.16L340.40 69.16L340.40 70.53L342.90 70.53L342.90 71.64L345.40 71.64L345.40 72.84L347.90 72.84L347.90 74.60L350.40 74.60L350.40 76.19L352.90 76.19L352.90 76.84L355.40 76.84L355.40 77.49L357.90 77.49L357.90 78.14L360.40 78.14L360.40 78.79L362.90 78.79L362.90 79.34L365.40 79.34L365.40 79.89L367.90 79.89L367.90 80.43L370.40 80.43L370.40 80.99L372.90 80.99L372.90 81.55L375.40 81.55L375.40 82.12L377.90 82.12L377.90 82.69L380.40 82.69L380.40 83.25L382.90 83.25L382.90 83.74L385.40 83.74L385.40 84.24L387.90 84.24L387.90 84.74L390.40 84.74L390.40 84.98L392.90 84.98L392.90 85.21L395.40 85.21L395.40 85.44L397.90 85.44L397.90 85.67L400.40 85.67L400.40 85.90L402.90 85.90L402.90 86.20L405.40 86.20L405.40 86.51L407.90 86.51L407.90 86.82L410.40 86.82L410.40 87.14L412.90 87.14L412.90 87.45L415.40 87.45L415.40 87.77L417.90 87.77L417.90 88.11L420.40 88.11L420.40 88.43L422.90 88.43L422.90 88.65L425.40 88.65L425.40 88.86L427.90 88.86L427.90 89.08L430.40 89.08L430.40 89.29L432.90 89.29L432.90 89.51L435.40 89.51L435.40 89.66L437.90 89.66L437.90 89.76L440.40 89.76L440.40 89.86L442.90 89.86L442.90 89.97L445.40 89.97L445.40 90.07L447.90 90.07L447.90 90.17L450.40 90.17L450.40 90.28L452.90 90.28L452.90 90.38L455.40 90.38L455.40 90.48L457.90 90.48L457.90 90.59L460.40 90.59L460.40 90.69L462.90 90.69L462.90 90.79L465.40 90.79L465.40 90.90L467.90 90.90L467.90 91.00L470.40 91.00L470.40 91.10L472.90 91.10L472.90 91.21L475.40 91.21L475.40 91.31L477.90 91.31L477.90 91.41L480.40 91.41L480.40 91.53L482.90 91.53L482.90 91.72L485.40 91.72L485.40 91.92L487.90 91.92L487.90 92.11L490.40 92.11L490.40 92.30L492.90 92.30L492.90 92.49L495.40 92.49L495.40 92.68L497.90 92.68L497.90 92.88L500.40 92.88L500.40 93.07L502.90 93.07L502.90 93.26L505.40 93.26L505.40 93.45L507.90 93.45L507.90 93.65L510.40 93.65L510.40 93.84L512.50 93.84L512.50 94.00L512.50 105.00L512.50 104.84L510.40 104.84L510.40 104.65L507.90 104.65L507.90 104.45L505.40 104.45L505.40 104.26L502.90 104.26L502.90 104.07L500.40 104.07L500.40 103.88L497.90 103.88L497.90 103.68L495.40 103.68L495.40 103.49L492.90 103.49L492.90 103.30L490.40 103.30L490.40 103.11L487.90 103.11L487.90 102.92L485.40 102.92L485.40 102.72L482.90 102.72L482.90 102.53L480.40 102.53L480.40 102.41L477.90 102.41L477.90 102.31L475.40 102.31L475.40 102.21L472.90 102.21L472.90 102.10L470.40 102.10L470.40 102.00L467.90 102.00L467.90 101.90L465.40 101.90L465.40 101.79L462.90 101.79L462.90 101.69L460.40 101.69L460.40 101.59L457.90 101.59L457.90 101.48L455.40 101.48L455.40 101.38L452.90 101.38L452.90 101.28L450.40 101.28L450.40 101.17L447.90 101.17L447.90 101.07L445.40 101.07L445.40 100.97L442.90 100.97L442.90 100.86L440.40 100.86L440.40 100.76L437.90 100.76L437.90 100.66L435.40 100.66L435.40 100.51L432.90 100.51L432.90 100.29L430.40 100.29L430.40 100.08L427.90 100.08L427.90 99.86L425.40 99.86L425.40 99.65L422.90 99.65L422.90 99.43L420.40 99.43L420.40 99.01L417.90 99.01L417.90 98.54L415.40 98.54L415.40 98.10L412.90 98.10L412.90 97.66L410.40 97.66L410.40 97.22L407.90 97.22L407.90 96.78L405.40 96.78L405.40 96.34L402.90 96.34L402.90 95.92L400.40 95.92L400.40 95.55L397.90 95.55L397.90 95.18L395.40 95.18L395.40 94.81L392.90 94.81L392.90 94.45L390.40 94.45L390.40 94.07L387.90 94.07L387.90 93.43L385.40 93.43L385.40 92.79L382.90 92.79L382.90 92.14L380.40 92.14L380.40 91.43L377.90 91.43L377.90 90.71L375.40 90.71L375.40 89.99L372.90 89.99L372.90 89.27L370.40 89.27L370.40 88.55L367.90 88.55L367.90 87.84L365.40 87.84L365.40 87.12L362.90 87.12L362.90 86.41L360.40 86.41L360.40 85.58L357.90 85.58L357.90 84.75L355.40 84.75L355.40 83.91L352.90 83.91L352.90 83.08L350.40 83.08L350.40 81.30L347.90 81.30L347.90 79.34L345.40 79.34L345.40 77.92L342.90 77.92L342.90 76.61L340.40 76.61L340.40 75.01L337.90 75.01L337.90 73.39L335.40 73.39L335.40 71.30L332.90 71.30L332.90 69.16L330.40 69.16L330.40 66.82L327.90 66.82L327.90 64.47L325.40 64.47L325.40 62.01L322.90 62.01L322.90 59.55L320.40 59.55L320.40 56.91L317.90 56.91L317.90 54.26L315.40 54.26L315.40 50.63L312.90 50.63L312.90 46.81L310.40 46.81L310.40 42.36L307.90 42.36L307.90 36.30L305.40 36.30Z" fill="#cfe9cc" fill-opacity="0.60" stroke="none"/>
<path d="M305.40 36.30L307.60 36.30L307.60 41.00L309.80 41.00L309.80 44.67L312.00 44.67L312.00 47.84L314.20 47.84L314.20 50.96L316.40 50.96L316.40 53.47L318.60 53.47L318.60 55.63L320.80 55.63L320.80 57.74L323.00 57.74L323.00 59.77L325.20 59.77L325.20 61.79L327.40 61.79L327.40 63.73L329.60 63.73L329.60 65.67L331.80 65.67L331.80 67.48L334.00 67.48L334.00 69.24L336.20 69.24L336.20 70.80L338.40 70.80L338.40 72.12L340.60 72.12L340.60 73.39L342.80 73.39L342.80 74.45L345.00 74.45L345.00 75.50L347.20 75.50L347.20 77.13L349.40 77.13L349.40 78.76L351.60 78.76L351.60 79.67L353.80 79.67L353.80 80.32L356.00 80.32L356.00 80.96L358.20 80.96L358.20 81.61L360.40 81.61L360.40 82.25L362.60 82.25L362.60 82.80L364.80 82.80L364.80 83.35L367.00 83.35L367.00 83.90L369.20 83.90L369.20 84.45L371.40 84.45L371.40 85.01L373.60 85.01L373.60 85.57L375.80 85.57L375.80 86.13L378.00 86.13L378.00 86.69L380.20 86.69L380.20 87.25L382.40 87.25L382.40 87.74L384.60 87.74L384.60 88.23L386.80 88.23L386.80 88.73L389.00 88.73L389.00 89.12L391.20 89.12L391.20 89.38L393.40 89.38L393.40 89.63L395.60 89.63L395.60 89.89L397.80 89.89L397.80 90.15L400.00 90.15L400.00 90.41L402.20 90.41L402.20 90.71L404.40 90.71L404.40 91.03L406.60 91.03L406.60 91.36L408.80 91.36L408.80 91.68L411.00 91.68L411.00 92.01L413.20 92.01L413.20 92.33L415.40 92.33L415.40 92.66L417.60 92.66L417.60 93.02L419.80 93.02L419.80 93.37L422.00 93.37L422.00 93.57L424.20 93.57L424.20 93.76L426.40 93.76L426.40 93.95L428.60 93.95L428.60 94.14L430.80 94.14L430.80 94.33L433.00 94.33L433.00 94.51L435.20 94.51L435.20 94.65L437.40 94.65L437.40 94.74L439.60 94.74L439.60 94.83L441.80 94.83L441.80 94.92L444.00 94.92L444.00 95.01L446.20 95.01L446.20 95.10L448.40 95.10L448.40 95.19L450.60 95.19L450.60 95.29L452.80 95.29L452.80 95.38L455.00 95.38L455.00 95.47L457.20 95.47L457.20 95.56L459.40 95.56L459.40 95.65L461.60 95.65L461.60 95.74L463.80 95.74L463.80 95.83L466.00 95.83L466.00 95.92L468.20 95.92L468.20 96.01L470.40 96.01L470.40 96.10L472.60 96.10L472.60 96.19L474.80 96.19L474.80 96.29L477.00 96.29L477.00 96.38L479.20 96.38L479.20 96.47L481.40 96.47L481.40 96.61L483.60 96.61L483.60 96.78L485.80 96.78L485.80 96.95L488.00 96.95L488.00 97.12L490.20 97.12L490.20 97.28L492.40 97.28L492.40 97.45L494.60 97.45L494.60 97.62L496.80 97.62L496.80 97.79L499.00 97.79L499.00 97.96L501.20 97.96L501.20 98.13L503.40 98.13L503.40 98.30L505.60 98.30L505.60 98.47L507.80 98.47L507.80 98.64L510.00 98.64L510.00 98.81L512.20 98.81L512.20 98.98L512.50 98.98L512.50 99.00" fill="none" stroke="#c4eac4" stroke-width="3.80" stroke-opacity="0.7" stroke-linejoin="round"/><path d="M305.40 36.30L307.60 36.30L307.60 41.00L309.80 41.00L309.80 44.67L312.00 44.67L312.00 47.84L314.20 47.84L314.20 50.96L316.40 50.96L316.40 53.47L318.60 53.47L318.60 55.63L320.80 55.63L320.80 57.74L323.00 57.74L323.00 59.77L325.20 59.77L325.20 61.79L327.40 61.79L327.40 63.73L329.60 63.73L329.60 65.67L331.80 65.67L331.80 67.48L334.00 67.48L334.00 69.24L336.20 69.24L336.20 70.80L338.40 70.80L338.40 72.12L340.60 72.12L340.60 73.39L342.80 73.39L342.80 74.45L345.00 74.45L345.00 75.50L347.20 75.50L347.20 77.13L349.40 77.13L349.40 78.76L351.60 78.76L351.60 79.67L353.80 79.67L353.80 80.32L356.00 80.32L356.00 80.96L358.20 80.96L358.20 81.61L360.40 81.61L360.40 82.25L362.60 82.25L362.60 82.80L364.80 82.80L364.80 83.35L367.00 83.35L367.00 83.90L369.20 83.90L369.20 84.45L371.40 84.45L371.40 85.01L373.60 85.01L373.60 85.57L375.80 85.57L375.80 86.13L378.00 86.13L378.00 86.69L380.20 86.69L380.20 87.25L382.40 87.25L382.40 87.74L384.60 87.74L384.60 88.23L386.80 88.23L386.80 88.73L389.00 88.73L389.00 89.12L391.20 89.12L391.20 89.38L393.40 89.38L393.40 89.63L395.60 89.63L395.60 89.89L397.80 89.89L397.80 90.15L400.00 90.15L400.00 90.41L402.20 90.41L402.20 90.71L404.40 90.71L404.40 91.03L406.60 91.03L406.60 91.36L408.80 91.36L408.80 91.68L411.00 91.68L411.00 92.01L413.20 92.01L413.20 92.33L415.40 92.33L415.40 92.66L417.60 92.66L417.60 93.02L419.80 93.02L419.80 93.37L422.00 93.37L422.00 93.57L424.20 93.57L424.20 93.76L426.40 93.76L426.40 93.95L428.60 93.95L428.60 94.14L430.80 94.14L430.80 94.33L433.00 94.33L433.00 94.51L435.20 94.51L435.20 94.65L437.40 94.65L437.40 94.74L439.60 94.74L439.60 94.83L441.80 94.83L441.80 94.92L444.00 94.92L444.00 95.01L446.20 95.01L446.20 95.10L448.40 95.10L448.40 95.19L450.60 95.19L450.60 95.29L452.80 95.29L452.80 95.38L455.00 95.38L455.00 95.47L457.20 95.47L457.20 95.56L459.40 95.56L459.40 95.65L461.60 95.65L461.60 95.74L463.80 95.74L463.80 95.83L466.00 95.83L466.00 95.92L468.20 95.92L468.20 96.01L470.40 96.01L470.40 96.10L472.60 96.10L472.60 96.19L474.80 96.19L474.80 96.29L477.00 96.29L477.00 96.38L479.20 96.38L479.20 96.47L481.40 96.47L481.40 96.61L483.60 96.61L483.60 96.78L485.80 96.78L485.80 96.95L488.00 96.95L488.00 97.12L490.20 97.12L490.20 97.28L492.40 97.28L492.40 97.45L494.60 97.45L494.60 97.62L496.80 97.62L496.80 97.79L499.00 97.79L499.00 97.96L501.20 97.96L501.20 98.13L503.40 98.13L503.40 98.30L505.60 98.30L505.60 98.47L507.80 98.47L507.80 98.64L510.00 98.64L510.00 98.81L512.20 98.81L512.20 98.98L512.50 98.98L512.50 99.00" fill="none" stroke="#4f9d58" stroke-width="1.40" stroke-linejoin="miter" />
<path d="M305.40 36.30L308.00 36.30L308.00 42.50L310.60 42.50L310.60 46.82L313.20 46.82L313.20 50.43L315.80 50.43L315.80 54.77L318.40 54.77L318.40 56.86L321.00 56.86L321.00 58.32L323.60 58.32L323.60 61.68L326.20 61.68L326.20 64.50L328.80 64.50L328.80 68.85L331.40 68.85L331.40 71.00L334.00 71.00L334.00 72.76L336.60 72.76L336.60 74.70L339.20 74.70L339.20 77.30L341.80 77.30L341.80 78.60L344.40 78.60L344.40 79.32L347.00 79.32L347.00 80.70L349.60 80.70L349.60 83.07L352.20 83.07L352.20 84.65L354.80 84.65L354.80 87.77L357.40 87.77L357.40 88.70L360.00 88.70L360.00 89.88L362.60 89.88L362.60 91.55L365.20 91.55L365.20 93.17L367.80 93.17L367.80 96.20L370.40 96.20L370.40 96.40L373.00 96.40L373.00 96.60L375.60 96.60L375.60 96.80L378.20 96.80L378.20 98.03L380.80 98.03L380.80 98.74L383.20 98.74L383.20 100.20L383.40 100.20L383.40 100.20L386.00 100.20L386.00 100.22L388.60 100.22L388.60 100.23L391.20 100.23L391.20 100.24L393.80 100.24L393.80 100.26L396.40 100.26L396.40 100.27L399.00 100.27L399.00 100.29L401.60 100.29L401.60 100.30L404.20 100.30L404.20 100.32L406.80 100.32L406.80 100.33L409.40 100.33L409.40 100.34L412.00 100.34L412.00 100.36L414.60 100.36L414.60 100.37L417.20 100.37L417.20 100.39L419.80 100.39L419.80 101.33L420.00 101.33L420.00 101.80L422.40 101.80L422.40 101.80L425.00 101.80L425.00 101.80L427.60 101.80L427.60 101.80L430.20 101.80L430.20 101.80L432.80 101.80L432.80 101.80L435.40 101.80L435.40 101.80L438.00 101.80L438.00 101.80L440.60 101.80L440.60 101.80L443.20 101.80L443.20 101.80L445.80 101.80L445.80 101.80L448.40 101.80L448.40 101.80L451.00 101.80L451.00 101.80L453.60 101.80L453.60 101.80L456.20 101.80L456.20 101.80L458.80 101.80L458.80 101.80L461.40 101.80L461.40 101.80L464.00 101.80L464.00 101.80L466.60 101.80L466.60 101.80L469.20 101.80L469.20 101.80L471.80 101.80L471.80 101.80L474.40 101.80L474.40 101.80L477.00 101.80L477.00 101.80L479.60 101.80L479.60 101.80L481.50 101.80L481.50 107.30L482.20 107.30L482.20 107.30L484.80 107.30L484.80 107.30L487.40 107.30L487.40 107.30L490.00 107.30L490.00 107.30L492.60 107.30L492.60 107.30L495.20 107.30L495.20 107.30L497.80 107.30L497.80 107.30L500.40 107.30L500.40 107.30L503.00 107.30L503.00 107.30L505.60 107.30L505.60 107.30L508.20 107.30L508.20 107.30L510.80 107.30L510.80 107.30L512.50 107.30L512.50 107.30" fill="none" stroke="#d2ddf4" stroke-width="3.80" stroke-opacity="0.7" stroke-linejoin="round"/><path d="M305.40 36.30L308.00 36.30L308.00 42.50L310.60 42.50L310.60 46.82L313.20 46.82L313.20 50.43L315.80 50.43L315.80 54.77L318.40 54.77L318.40 56.86L321.00 56.86L321.00 58.32L323.60 58.32L323.60 61.68L326.20 61.68L326.20 64.50L328.80 64.50L328.80 68.85L331.40 68.85L331.40 71.00L334.00 71.00L334.00 72.76L336.60 72.76L336.60 74.70L339.20 74.70L339.20 77.30L341.80 77.30L341.80 78.60L344.40 78.60L344.40 79.32L347.00 79.32L347.00 80.70L349.60 80.70L349.60 83.07L352.20 83.07L352.20 84.65L354.80 84.65L354.80 87.77L357.40 87.77L357.40 88.70L360.00 88.70L360.00 89.88L362.60 89.88L362.60 91.55L365.20 91.55L365.20 93.17L367.80 93.17L367.80 96.20L370.40 96.20L370.40 96.40L373.00 96.40L373.00 96.60L375.60 96.60L375.60 96.80L378.20 96.80L378.20 98.03L380.80 98.03L380.80 98.74L383.20 98.74L383.20 100.20L383.40 100.20L383.40 100.20L386.00 100.20L386.00 100.22L388.60 100.22L388.60 100.23L391.20 100.23L391.20 100.24L393.80 100.24L393.80 100.26L396.40 100.26L396.40 100.27L399.00 100.27L399.00 100.29L401.60 100.29L401.60 100.30L404.20 100.30L404.20 100.32L406.80 100.32L406.80 100.33L409.40 100.33L409.40 100.34L412.00 100.34L412.00 100.36L414.60 100.36L414.60 100.37L417.20 100.37L417.20 100.39L419.80 100.39L419.80 101.33L420.00 101.33L420.00 101.80L422.40 101.80L422.40 101.80L425.00 101.80L425.00 101.80L427.60 101.80L427.60 101.80L430.20 101.80L430.20 101.80L432.80 101.80L432.80 101.80L435.40 101.80L435.40 101.80L438.00 101.80L438.00 101.80L440.60 101.80L440.60 101.80L443.20 101.80L443.20 101.80L445.80 101.80L445.80 101.80L448.40 101.80L448.40 101.80L451.00 101.80L451.00 101.80L453.60 101.80L453.60 101.80L456.20 101.80L456.20 101.80L458.80 101.80L458.80 101.80L461.40 101.80L461.40 101.80L464.00 101.80L464.00 101.80L466.60 101.80L466.60 101.80L469.20 101.80L469.20 101.80L471.80 101.80L471.80 101.80L474.40 101.80L474.40 101.80L477.00 101.80L477.00 101.80L479.60 101.80L479.60 101.80L481.50 101.80L481.50 107.30L482.20 107.30L482.20 107.30L484.80 107.30L484.80 107.30L487.40 107.30L487.40 107.30L490.00 107.30L490.00 107.30L492.60 107.30L492.60 107.30L495.20 107.30L495.20 107.30L497.80 107.30L497.80 107.30L500.40 107.30L500.40 107.30L503.00 107.30L503.00 107.30L505.60 107.30L505.60 107.30L508.20 107.30L508.20 107.30L510.80 107.30L510.80 107.30L512.50 107.30L512.50 107.30" fill="none" stroke="#34507f" stroke-width="1.40" stroke-linejoin="miter" />
<line x1="305.40" y1="34.10" x2="305.40" y2="159.55" stroke="#2b2b2b" stroke-width="1.3"/>
<line x1="302.70" y1="158.90" x2="513.10" y2="158.90" stroke="#2b2b2b" stroke-width="1.4"/>
<line x1="302.70" y1="158.90" x2="305.40" y2="158.90" stroke="#2b2b2b" stroke-width="1.1"/>
<text x="299.80" y="161.45" font-size="7.40" text-anchor="end" fill="#333" font-weight="normal" >0.0</text>
<line x1="302.70" y1="134.38" x2="305.40" y2="134.38" stroke="#2b2b2b" stroke-width="1.1"/>
<text x="299.80" y="136.93" font-size="7.40" text-anchor="end" fill="#333" font-weight="normal" >0.2</text>
<line x1="302.70" y1="109.86" x2="305.40" y2="109.86" stroke="#2b2b2b" stroke-width="1.1"/>
<text x="299.80" y="112.41" font-size="7.40" text-anchor="end" fill="#333" font-weight="normal" >0.4</text>
<line x1="302.70" y1="85.34" x2="305.40" y2="85.34" stroke="#2b2b2b" stroke-width="1.1"/>
<text x="299.80" y="87.89" font-size="7.40" text-anchor="end" fill="#333" font-weight="normal" >0.6</text>
<line x1="302.70" y1="60.82" x2="305.40" y2="60.82" stroke="#2b2b2b" stroke-width="1.1"/>
<text x="299.80" y="63.37" font-size="7.40" text-anchor="end" fill="#333" font-weight="normal" >0.8</text>
<line x1="302.70" y1="36.30" x2="305.40" y2="36.30" stroke="#2b2b2b" stroke-width="1.1"/>
<text x="299.80" y="38.85" font-size="7.40" text-anchor="end" fill="#333" font-weight="normal" >1.0</text>
<line x1="305.40" y1="158.90" x2="305.40" y2="161.50" stroke="#2b2b2b" stroke-width="1.1"/>
<text x="305.40" y="171.60" font-size="7.30" text-anchor="middle" fill="#333" font-weight="normal" >0</text>
<line x1="325.85" y1="158.90" x2="325.85" y2="161.50" stroke="#2b2b2b" stroke-width="1.1"/>
<text x="325.85" y="171.60" font-size="7.30" text-anchor="middle" fill="#333" font-weight="normal" >12</text>
<line x1="346.30" y1="158.90" x2="346.30" y2="161.50" stroke="#2b2b2b" stroke-width="1.1"/>
<text x="346.30" y="171.60" font-size="7.30" text-anchor="middle" fill="#333" font-weight="normal" >24</text>
<line x1="366.75" y1="158.90" x2="366.75" y2="161.50" stroke="#2b2b2b" stroke-width="1.1"/>
<text x="366.75" y="171.60" font-size="7.30" text-anchor="middle" fill="#333" font-weight="normal" >36</text>
<line x1="387.20" y1="158.90" x2="387.20" y2="161.50" stroke="#2b2b2b" stroke-width="1.1"/>
<text x="387.20" y="171.60" font-size="7.30" text-anchor="middle" fill="#333" font-weight="normal" >48</text>
<line x1="407.65" y1="158.90" x2="407.65" y2="161.50" stroke="#2b2b2b" stroke-width="1.1"/>
<text x="407.65" y="171.60" font-size="7.30" text-anchor="middle" fill="#333" font-weight="normal" >60</text>
<line x1="428.10" y1="158.90" x2="428.10" y2="161.50" stroke="#2b2b2b" stroke-width="1.1"/>
<text x="428.10" y="171.60" font-size="7.30" text-anchor="middle" fill="#333" font-weight="normal" >72</text>
<line x1="448.55" y1="158.90" x2="448.55" y2="161.50" stroke="#2b2b2b" stroke-width="1.1"/>
<text x="448.55" y="171.60" font-size="7.30" text-anchor="middle" fill="#333" font-weight="normal" >84</text>
<line x1="469.00" y1="158.90" x2="469.00" y2="161.50" stroke="#2b2b2b" stroke-width="1.1"/>
<text x="469.00" y="171.60" font-size="7.30" text-anchor="middle" fill="#333" font-weight="normal" >96</text>
<line x1="489.45" y1="158.90" x2="489.45" y2="161.50" stroke="#2b2b2b" stroke-width="1.1"/>
<text x="489.45" y="171.60" font-size="7.30" text-anchor="middle" fill="#333" font-weight="normal" >108</text>
<line x1="509.90" y1="158.90" x2="509.90" y2="161.50" stroke="#2b2b2b" stroke-width="1.1"/>
<text x="509.90" y="171.60" font-size="7.30" text-anchor="middle" fill="#333" font-weight="normal" >120</text>
<path d="M44.50 251.60L47.00 251.60L47.00 252.17L49.50 252.17L49.50 252.74L52.00 252.74L52.00 253.31L54.50 253.31L54.50 253.89L57.00 253.89L57.00 254.47L59.50 254.47L59.50 255.05L62.00 255.05L62.00 255.63L64.50 255.63L64.50 256.22L67.00 256.22L67.00 256.80L69.50 256.80L69.50 257.38L72.00 257.38L72.00 258.03L74.50 258.03L74.50 258.70L77.00 258.70L77.00 259.37L79.50 259.37L79.50 260.03L82.00 260.03L82.00 260.70L84.50 260.70L84.50 261.37L87.00 261.37L87.00 262.03L89.50 262.03L89.50 262.70L92.00 262.70L92.00 263.37L94.50 263.37L94.50 264.03L97.00 264.03L97.00 264.70L99.50 264.70L99.50 265.37L102.00 265.37L102.00 266.03L104.50 266.03L104.50 266.70L107.00 266.70L107.00 267.37L109.50 267.37L109.50 268.03L112.00 268.03L112.00 268.70L114.50 268.70L114.50 269.37L117.00 269.37L117.00 269.90L119.50 269.90L119.50 270.40L122.00 270.40L122.00 270.90L124.50 270.90L124.50 271.40L127.00 271.40L127.00 271.90L129.50 271.90L129.50 272.40L132.00 272.40L132.00 272.81L134.50 272.81L134.50 273.19L137.00 273.19L137.00 273.57L139.50 273.57L139.50 273.96L142.00 273.96L142.00 274.34L144.50 274.34L144.50 274.72L147.00 274.72L147.00 274.80L149.50 274.80L149.50 274.80L152.00 274.80L152.00 274.80L154.50 274.80L154.50 274.80L157.00 274.80L157.00 274.80L158.20 274.80L158.20 278.40L159.50 278.40L159.50 278.40L162.00 278.40L162.00 278.40L164.50 278.40L164.50 278.40L167.00 278.40L167.00 278.40L169.50 278.40L169.50 278.40L172.00 278.40L172.00 278.40L174.50 278.40L174.50 278.40L177.00 278.40L177.00 278.40L179.50 278.40L179.50 278.40L182.00 278.40L182.00 278.40L184.50 278.40L184.50 278.40L187.00 278.40L187.00 278.40L189.50 278.40L189.50 278.40L192.00 278.40L192.00 278.40L194.50 278.40L194.50 278.40L197.00 278.40L197.00 278.40L199.50 278.40L199.50 278.40L202.00 278.40L202.00 278.40L204.50 278.40L204.50 278.40L207.00 278.40L207.00 278.40L209.50 278.40L209.50 278.40L212.00 278.40L212.00 278.40L214.50 278.40L214.50 278.40L217.00 278.40L217.00 278.40L219.50 278.40L219.50 278.40L220.40 278.40L220.40 280.00L222.00 280.00L222.00 280.00L224.50 280.00L224.50 280.00L227.00 280.00L227.00 280.00L229.50 280.00L229.50 280.00L232.00 280.00L232.00 280.00L234.50 280.00L234.50 280.00L237.00 280.00L237.00 280.00L239.50 280.00L239.50 280.00L242.00 280.00L242.00 280.00L244.50 280.00L244.50 280.00L247.00 280.00L247.00 280.00L249.50 280.00L249.50 280.00L252.00 280.00L252.00 280.00L252.20 280.00L252.20 280.00L252.20 320.20L252.20 320.20L252.00 320.20L252.00 320.20L249.50 320.20L249.50 320.20L247.00 320.20L247.00 320.20L244.50 320.20L244.50 320.20L242.00 320.20L242.00 320.20L239.50 320.20L239.50 320.20L237.00 320.20L237.00 320.20L234.50 320.20L234.50 320.20L232.00 320.20L232.00 320.20L229.50 320.20L229.50 320.20L227.00 320.20L227.00 320.20L224.50 320.20L224.50 320.20L222.00 320.20L222.00 320.20L220.40 320.20L220.40 310.70L219.50 310.70L219.50 310.70L217.00 310.70L217.00 310.70L214.50 310.70L214.50 310.70L212.00 310.70L212.00 310.70L209.50 310.70L209.50 310.70L207.00 310.70L207.00 310.70L204.50 310.70L204.50 310.70L202.00 310.70L202.00 310.70L199.50 310.70L199.50 310.70L197.00 310.70L197.00 310.70L194.50 310.70L194.50 310.70L192.00 310.70L192.00 310.70L189.50 310.70L189.50 310.70L187.00 310.70L187.00 310.70L184.50 310.70L184.50 310.70L182.00 310.70L182.00 310.70L179.50 310.70L179.50 310.70L177.00 310.70L177.00 310.70L174.50 310.70L174.50 310.70L172.00 310.70L172.00 310.70L169.50 310.70L169.50 310.70L167.00 310.70L167.00 310.70L164.50 310.70L164.50 310.70L162.00 310.70L162.00 310.70L159.50 310.70L159.50 310.70L158.20 310.70L158.20 304.00L157.00 304.00L157.00 304.00L154.50 304.00L154.50 304.00L152.00 304.00L152.00 304.00L149.50 304.00L149.50 304.00L147.00 304.00L147.00 304.00L144.50 304.00L144.50 304.00L142.00 304.00L142.00 304.00L139.50 304.00L139.50 304.00L137.00 304.00L137.00 304.00L134.50 304.00L134.50 304.00L132.00 304.00L132.00 304.00L129.50 304.00L129.50 304.00L127.00 304.00L127.00 304.00L124.50 304.00L124.50 304.00L122.00 304.00L122.00 304.00L119.50 304.00L119.50 304.00L117.00 304.00L117.00 304.00L114.50 304.00L114.50 304.00L112.00 304.00L112.00 304.00L109.50 304.00L109.50 304.00L107.00 304.00L107.00 304.00L104.50 304.00L104.50 304.00L102.50 304.00L102.50 298.50L102.00 298.50L102.00 298.08L99.50 298.08L99.50 297.67L97.00 297.67L97.00 297.25L94.50 297.25L94.50 296.83L92.00 296.83L92.00 296.27L89.50 296.27L89.50 295.15L87.00 295.15L87.00 294.02L84.50 294.02L84.50 292.90L82.00 292.90L82.00 291.70L79.50 291.70L79.50 290.20L77.00 290.20L77.00 288.70L74.50 288.70L74.50 287.20L72.00 287.20L72.00 285.60L69.50 285.60L69.50 283.60L67.00 283.60L67.00 281.60L64.50 281.60L64.50 279.60L62.00 279.60L62.00 277.40L59.50 277.40L59.50 274.40L57.00 274.40L57.00 271.40L54.50 271.40L54.50 268.40L52.00 268.40L52.00 264.69L49.50 264.69L49.50 258.15L47.00 258.15L47.00 251.60L44.50 251.60Z" fill="#d8dfda" fill-opacity="0.90" stroke="none"/>
<path d="M44.50 251.60L47.00 251.60L47.00 255.81L49.50 255.81L49.50 258.75L52.00 258.75L52.00 260.83L54.50 260.83L54.50 262.92L57.00 262.92L57.00 265.10L59.50 265.10L59.50 267.28L62.00 267.28L62.00 269.46L64.50 269.46L64.50 271.64L67.00 271.64L67.00 273.83L69.50 273.83L69.50 275.83L72.00 275.83L72.00 277.81L74.50 277.81L74.50 279.63L77.00 279.63L77.00 281.22L79.50 281.22L79.50 282.81L82.00 282.81L82.00 284.42L84.50 284.42L84.50 286.03L87.00 286.03L87.00 287.62L89.50 287.62L89.50 289.19L92.00 289.19L92.00 290.75L94.50 290.75L94.50 292.31L97.00 292.31L97.00 293.88L99.50 293.88L99.50 295.44L102.00 295.44L102.00 297.00L104.50 297.00L104.50 305.69L107.00 305.69L107.00 309.12L109.50 309.12L109.50 312.56L112.00 312.56L112.00 316.00L114.50 316.00L114.50 317.25L117.00 317.25L117.00 318.50L119.50 318.50L119.50 319.75L122.00 319.75L122.00 320.04L124.50 320.04L124.50 320.09L127.00 320.09L127.00 320.14L129.50 320.14L129.50 320.19L132.00 320.19L132.00 320.24L134.50 320.24L134.50 320.29L137.00 320.29L137.00 320.34L139.50 320.34L139.50 320.39L142.00 320.39L142.00 320.44L144.50 320.44L144.50 320.49L147.00 320.49L147.00 320.51L149.50 320.51L149.50 320.53L152.00 320.53L152.00 320.55L154.50 320.55L154.50 320.57L157.00 320.57L157.00 320.58L159.50 320.58L159.50 320.60L162.00 320.60L162.00 320.62L164.50 320.62L164.50 320.64L167.00 320.64L167.00 320.65L169.50 320.65L169.50 320.67L172.00 320.67L172.00 320.69L174.50 320.69L174.50 320.70L177.00 320.70L177.00 320.72L179.50 320.72L179.50 320.74L182.00 320.74L182.00 320.76L184.50 320.76L184.50 320.77L187.00 320.77L187.00 320.79L189.50 320.79L189.50 320.81L192.00 320.81L192.00 320.83L194.50 320.83L194.50 320.84L197.00 320.84L197.00 320.86L199.50 320.86L199.50 320.88L202.00 320.88L202.00 320.90L204.50 320.90L204.50 320.91L207.00 320.91L207.00 320.93L209.50 320.93L209.50 320.95L212.00 320.95L212.00 320.97L214.50 320.97L214.50 320.98L217.00 320.98L217.00 321.00L217.00 353.00L217.00 352.93L214.50 352.93L214.50 352.86L212.00 352.86L212.00 352.79L209.50 352.79L209.50 352.73L207.00 352.73L207.00 352.66L204.50 352.66L204.50 352.59L202.00 352.59L202.00 352.52L199.50 352.52L199.50 352.45L197.00 352.45L197.00 352.38L194.50 352.38L194.50 352.32L192.00 352.32L192.00 352.25L189.50 352.25L189.50 352.18L187.00 352.18L187.00 352.11L184.50 352.11L184.50 352.04L182.00 352.04L182.00 351.97L179.50 351.97L179.50 351.90L177.00 351.90L177.00 351.84L174.50 351.84L174.50 351.77L172.00 351.77L172.00 351.70L169.50 351.70L169.50 351.63L167.00 351.63L167.00 351.56L164.50 351.56L164.50 351.49L162.00 351.49L162.00 351.42L159.50 351.42L159.50 351.36L157.00 351.36L157.00 351.29L154.50 351.29L154.50 351.22L152.00 351.22L152.00 351.15L149.50 351.15L149.50 351.08L147.00 351.08L147.00 351.01L144.50 351.01L144.50 350.95L142.00 350.95L142.00 350.88L139.50 350.88L139.50 350.81L137.00 350.81L137.00 350.74L134.50 350.74L134.50 350.68L132.00 350.68L132.00 350.61L129.50 350.61L129.50 350.54L127.00 350.54L127.00 350.47L124.50 350.47L124.50 350.41L122.00 350.41L122.00 350.34L119.50 350.34L119.50 350.27L117.00 350.27L117.00 350.20L114.50 350.20L114.50 350.14L112.00 350.14L112.00 350.07L109.50 350.07L109.50 350.00L107.00 350.00L107.00 348.21L104.50 348.21L104.50 346.43L102.00 346.43L102.00 344.50L99.50 344.50L99.50 342.00L97.00 342.00L97.00 339.50L94.50 339.50L94.50 337.00L92.00 337.00L92.00 334.50L89.50 334.50L89.50 332.00L87.00 332.00L87.00 329.67L84.50 329.67L84.50 328.00L82.00 328.00L82.00 326.33L79.50 326.33L79.50 324.67L77.00 324.67L77.00 323.00L74.50 323.00L74.50 321.33L72.00 321.33L72.00 319.25L69.50 319.25L69.50 315.50L67.00 315.50L67.00 311.75L64.50 311.75L64.50 308.00L62.00 308.00L62.00 303.36L59.50 303.36L59.50 298.71L57.00 298.71L57.00 293.57L54.50 293.57L54.50 286.43L52.00 286.43L52.00 279.29L49.50 279.29L49.50 268.31L47.00 268.31L47.00 251.60L44.50 251.60Z" fill="#d6d6e8" fill-opacity="0.85" stroke="none"/>
<path d="M44.50 251.60L45.20 251.60L45.20 257.95L47.00 257.95L47.00 263.67L49.50 263.67L49.50 269.22L52.00 269.22L52.00 273.17L54.50 273.17L54.50 276.66L57.00 276.66L57.00 279.71L59.50 279.71L59.50 281.93L62.00 281.93L62.00 284.52L64.50 284.52L64.50 287.65L67.00 287.65L67.00 291.94L69.50 291.94L69.50 297.86L72.00 297.86L72.00 303.92L74.50 303.92L74.50 305.77L77.00 305.77L77.00 307.18L79.50 307.18L79.50 307.43L82.00 307.43L82.00 307.69L84.50 307.69L84.50 307.94L87.00 307.94L87.00 308.49L89.50 308.49L89.50 309.17L92.00 309.17L92.00 309.85L94.50 309.85L94.50 310.53L97.00 310.53L97.00 311.23L99.50 311.23L99.50 311.93L102.00 311.93L102.00 312.63L104.50 312.63L104.50 313.33L107.00 313.33L107.00 314.03L109.50 314.03L109.50 314.74L112.00 314.74L112.00 315.44L114.50 315.44L114.50 316.83L117.00 316.83L117.00 318.39L119.50 318.39L119.50 319.95L122.00 319.95L122.00 321.38L124.50 321.38L124.50 322.10L127.00 322.10L127.00 322.83L129.50 322.83L129.50 323.55L132.00 323.55L132.00 323.99L134.50 323.99L134.50 324.20L137.00 324.20L137.00 324.41L139.50 324.41L139.50 324.61L142.00 324.61L142.00 324.82L144.50 324.82L144.50 325.16L147.00 325.16L147.00 325.54L149.50 325.54L149.50 325.92L152.00 325.92L152.00 327.30L154.50 327.30L154.50 328.93L157.00 328.93L157.00 329.48L159.50 329.48L159.50 329.99L162.00 329.99L162.00 330.49L164.50 330.49L164.50 331.00L167.00 331.00L167.00 331.51L169.50 331.51L169.50 332.07L172.00 332.07L172.00 332.62L174.50 332.62L174.50 333.14L177.00 333.14L177.00 333.60L179.50 333.60L179.50 334.05L182.00 334.05L182.00 334.50L184.50 334.50L184.50 334.50L187.00 334.50L187.00 334.50L189.50 334.50L189.50 334.50L192.00 334.50L192.00 334.50L194.50 334.50L194.50 334.50L197.00 334.50L197.00 334.50L199.50 334.50L199.50 334.50L202.00 334.50L202.00 334.50L204.50 334.50L204.50 334.50L207.00 334.50L207.00 334.50L209.50 334.50L209.50 334.50L212.00 334.50L212.00 334.50L214.50 334.50L214.50 334.50L217.00 334.50L217.00 334.50L219.50 334.50L219.50 334.50L222.00 334.50L222.00 334.50L224.50 334.50L224.50 334.50L227.00 334.50L227.00 334.50L229.50 334.50L229.50 334.50L232.00 334.50L232.00 334.50L234.50 334.50L234.50 334.50L237.00 334.50L237.00 334.50L239.50 334.50L239.50 334.50L242.00 334.50L242.00 334.50L244.50 334.50L244.50 334.50L247.00 334.50L247.00 334.50L249.50 334.50L249.50 334.50L252.00 334.50L252.00 334.50L252.20 334.50L252.20 334.50L252.20 351.50L252.20 351.50L252.00 351.50L252.00 351.50L249.50 351.50L249.50 351.50L247.00 351.50L247.00 351.50L244.50 351.50L244.50 351.50L242.00 351.50L242.00 351.50L239.50 351.50L239.50 351.50L237.00 351.50L237.00 351.50L234.50 351.50L234.50 351.50L232.00 351.50L232.00 351.50L229.50 351.50L229.50 351.50L227.00 351.50L227.00 351.50L224.50 351.50L224.50 351.50L222.00 351.50L222.00 351.50L219.50 351.50L219.50 351.50L217.00 351.50L217.00 351.50L214.50 351.50L214.50 351.50L212.00 351.50L212.00 351.50L209.50 351.50L209.50 351.50L207.00 351.50L207.00 351.50L204.50 351.50L204.50 351.50L202.00 351.50L202.00 351.50L199.50 351.50L199.50 351.50L197.00 351.50L197.00 351.50L194.50 351.50L194.50 351.50L192.00 351.50L192.00 351.50L189.50 351.50L189.50 351.50L187.00 351.50L187.00 351.50L184.50 351.50L184.50 351.50L182.00 351.50L182.00 351.05L179.50 351.05L179.50 350.60L177.00 350.60L177.00 350.14L174.50 350.14L174.50 349.62L172.00 349.62L172.00 349.07L169.50 349.07L169.50 348.51L167.00 348.51L167.00 348.00L164.50 348.00L164.50 347.49L162.00 347.49L162.00 346.99L159.50 346.99L159.50 346.48L157.00 346.48L157.00 345.93L154.50 345.93L154.50 344.30L152.00 344.30L152.00 342.88L149.50 342.88L149.50 342.29L147.00 342.29L147.00 341.71L144.50 341.71L144.50 341.16L142.00 341.16L142.00 340.74L139.50 340.74L139.50 340.32L137.00 340.32L137.00 339.89L134.50 339.89L134.50 339.47L132.00 339.47L132.00 338.81L129.50 338.81L129.50 337.86L127.00 337.86L127.00 336.90L124.50 336.90L124.50 335.95L122.00 335.95L122.00 334.28L119.50 334.28L119.50 332.47L117.00 332.47L117.00 330.67L114.50 330.67L114.50 329.03L112.00 329.03L112.00 328.07L109.50 328.07L109.50 327.11L107.00 327.11L107.00 326.15L104.50 326.15L104.50 325.17L102.00 325.17L102.00 324.19L99.50 324.19L99.50 323.21L97.00 323.21L97.00 322.23L94.50 322.23L94.50 321.24L92.00 321.24L92.00 320.26L89.50 320.26L89.50 319.27L87.00 319.27L87.00 318.41L84.50 318.41L84.50 317.81L82.00 317.81L82.00 317.21L79.50 317.21L79.50 316.61L77.00 316.61L77.00 314.83L74.50 314.83L74.50 312.59L72.00 312.59L72.00 306.13L69.50 306.13L69.50 299.79L67.00 299.79L67.00 295.05L64.50 295.05L64.50 291.44L62.00 291.44L62.00 288.32L59.50 288.32L59.50 285.56L57.00 285.56L57.00 281.87L54.50 281.87L54.50 277.67L52.00 277.67L52.00 272.91L49.50 272.91L49.50 266.29L47.00 266.29L47.00 259.33L45.20 259.33L45.20 251.60L44.50 251.60Z" fill="#c9e6f4" fill-opacity="0.55" stroke="none"/>
<path d="M217.00 331.70L252.20 331.70L252.20 331.70L252.20 349.00L252.20 349.00L217.00 349.00Z" fill="#c9e6f4" fill-opacity="0.55" stroke="none"/>
<path d="M44.50 251.60L47.00 251.60L47.00 254.69L49.50 254.69L49.50 258.03L52.00 258.03L52.00 261.05L54.50 261.05L54.50 263.19L57.00 263.19L57.00 264.78L59.50 264.78L59.50 266.35L62.00 266.35L62.00 267.83L64.50 267.83L64.50 269.19L67.00 269.19L67.00 270.55L69.50 270.55L69.50 271.25L72.00 271.25L72.00 271.89L74.50 271.89L74.50 272.53L77.00 272.53L77.00 273.31L79.50 273.31L79.50 274.18L82.00 274.18L82.00 275.05L84.50 275.05L84.50 275.95L87.00 275.95L87.00 276.94L89.50 276.94L89.50 277.92L92.00 277.92L92.00 278.90L94.50 278.90L94.50 279.66L97.00 279.66L97.00 280.38L99.50 280.38L99.50 281.10L102.00 281.10L102.00 281.82L104.50 281.82L104.50 282.14L107.00 282.14L107.00 282.47L109.50 282.47L109.50 282.79L112.00 282.79L112.00 283.10L114.50 283.10L114.50 283.40L117.00 283.40L117.00 283.70L119.50 283.70L119.50 283.99L122.00 283.99L122.00 284.30L124.50 284.30L124.50 284.60L127.00 284.60L127.00 284.90L129.50 284.90L129.50 285.21L132.00 285.21L132.00 285.57L134.50 285.57L134.50 285.94L137.00 285.94L137.00 286.31L139.50 286.31L139.50 286.68L142.00 286.68L142.00 287.05L144.50 287.05L144.50 287.43L147.00 287.43L147.00 287.73L149.50 287.73L149.50 288.02L152.00 288.02L152.00 288.31L154.50 288.31L154.50 288.60L157.00 288.60L157.00 288.88L159.50 288.88L159.50 289.03L162.00 289.03L162.00 289.07L164.50 289.07L164.50 289.12L167.00 289.12L167.00 289.16L169.50 289.16L169.50 289.20L172.00 289.20L172.00 289.25L174.50 289.25L174.50 289.29L177.00 289.29L177.00 289.34L179.50 289.34L179.50 289.38L182.00 289.38L182.00 289.43L184.50 289.43L184.50 289.47L187.00 289.47L187.00 289.51L189.50 289.51L189.50 289.56L192.00 289.56L192.00 289.60L194.50 289.60L194.50 289.65L197.00 289.65L197.00 289.69L199.50 289.69L199.50 289.74L202.00 289.74L202.00 289.78L204.50 289.78L204.50 289.83L207.00 289.83L207.00 289.87L209.50 289.87L209.50 289.91L212.00 289.91L212.00 289.96L214.50 289.96L214.50 290.00L217.00 290.00L217.00 290.05L219.50 290.05L219.50 290.09L222.00 290.09L222.00 290.58L224.50 290.58L224.50 291.18L227.00 291.18L227.00 291.30L229.50 291.30L229.50 291.30L232.00 291.30L232.00 291.30L234.50 291.30L234.50 291.30L237.00 291.30L237.00 291.30L239.50 291.30L239.50 291.30L242.00 291.30L242.00 293.00L244.50 293.00L244.50 293.00L247.00 293.00L247.00 293.00L249.50 293.00L249.50 293.00L252.00 293.00L252.00 293.00L252.20 293.00L252.20 293.00L252.20 304.00L252.20 304.00L252.00 304.00L252.00 304.00L249.50 304.00L249.50 304.00L247.00 304.00L247.00 304.00L244.50 304.00L244.50 304.00L242.00 304.00L242.00 302.30L239.50 302.30L239.50 302.30L237.00 302.30L237.00 302.30L234.50 302.30L234.50 302.30L232.00 302.30L232.00 302.30L229.50 302.30L229.50 302.30L227.00 302.30L227.00 302.18L224.50 302.18L224.50 301.58L222.00 301.58L222.00 301.09L219.50 301.09L219.50 301.05L217.00 301.05L217.00 301.00L214.50 301.00L214.50 300.96L212.00 300.96L212.00 300.91L209.50 300.91L209.50 300.87L207.00 300.87L207.00 300.83L204.50 300.83L204.50 300.78L202.00 300.78L202.00 300.74L199.50 300.74L199.50 300.69L197.00 300.69L197.00 300.65L194.50 300.65L194.50 300.60L192.00 300.60L192.00 300.56L189.50 300.56L189.50 300.51L187.00 300.51L187.00 300.47L184.50 300.47L184.50 300.43L182.00 300.43L182.00 300.38L179.50 300.38L179.50 300.34L177.00 300.34L177.00 300.29L174.50 300.29L174.50 300.25L172.00 300.25L172.00 300.20L169.50 300.20L169.50 300.16L167.00 300.16L167.00 300.12L164.50 300.12L164.50 300.07L162.00 300.07L162.00 300.03L159.50 300.03L159.50 299.88L157.00 299.88L157.00 299.60L154.50 299.60L154.50 299.31L152.00 299.31L152.00 299.02L149.50 299.02L149.50 298.73L147.00 298.73L147.00 298.41L144.50 298.41L144.50 297.94L142.00 297.94L142.00 297.46L139.50 297.46L139.50 296.99L137.00 296.99L137.00 296.52L134.50 296.52L134.50 296.05L132.00 296.05L132.00 295.59L129.50 295.59L129.50 295.12L127.00 295.12L127.00 294.66L124.50 294.66L124.50 294.20L122.00 294.20L122.00 293.74L119.50 293.74L119.50 293.28L117.00 293.28L117.00 292.81L114.50 292.81L114.50 292.34L112.00 292.34L112.00 291.87L109.50 291.87L109.50 291.36L107.00 291.36L107.00 290.86L104.50 290.86L104.50 290.36L102.00 290.36L102.00 289.44L99.50 289.44L99.50 288.53L97.00 288.53L97.00 287.62L94.50 287.62L94.50 286.66L92.00 286.66L92.00 285.46L89.50 285.46L89.50 284.27L87.00 284.27L87.00 283.07L84.50 283.07L84.50 281.93L82.00 281.93L82.00 280.83L79.50 280.83L79.50 279.72L77.00 279.72L77.00 278.69L74.50 278.69L74.50 277.77L72.00 277.77L72.00 276.86L69.50 276.86L69.50 275.89L67.00 275.89L67.00 274.21L64.50 274.21L64.50 272.53L62.00 272.53L62.00 270.69L59.50 270.69L59.50 268.73L57.00 268.73L57.00 266.75L54.50 266.75L54.50 264.12L52.00 264.12L52.00 260.53L49.50 260.53L49.50 256.14L47.00 256.14L47.00 251.60L44.50 251.60Z" fill="#cfe9cc" fill-opacity="0.70" stroke="none"/>
<path d="M44.50 251.60L46.70 251.60L46.70 254.90L48.90 254.90L48.90 258.23L51.10 258.23L51.10 261.59L53.30 261.59L53.30 263.67L55.50 263.67L55.50 265.53L57.70 265.53L57.70 267.07L59.90 267.07L59.90 268.60L62.10 268.60L62.10 270.02L64.30 270.02L64.30 271.35L66.50 271.35L66.50 272.68L68.70 272.68L68.70 273.56L70.90 273.56L70.90 274.23L73.10 274.23L73.10 274.90L75.30 274.90L75.30 275.57L77.50 275.57L77.50 276.42L79.70 276.42L79.70 277.28L81.90 277.28L81.90 278.14L84.10 278.14L84.10 279.02L86.30 279.02L86.30 279.97L88.50 279.97L88.50 280.92L90.70 280.92L90.70 281.87L92.90 281.87L92.90 282.76L95.10 282.76L95.10 283.47L97.30 283.47L97.30 284.18L99.50 284.18L99.50 284.89L101.70 284.89L101.70 285.60L103.90 285.60L103.90 286.01L106.10 286.01L106.10 286.37L108.30 286.37L108.30 286.72L110.50 286.72L110.50 287.07L112.70 287.07L112.70 287.40L114.90 287.40L114.90 287.74L117.10 287.74L117.10 288.06L119.30 288.06L119.30 288.39L121.50 288.39L121.50 288.73L123.70 288.73L123.70 289.06L125.90 289.06L125.90 289.38L128.10 289.38L128.10 289.71L130.30 289.71L130.30 290.05L132.50 290.05L132.50 290.42L134.70 290.42L134.70 290.78L136.90 290.78L136.90 291.15L139.10 291.15L139.10 291.52L141.30 291.52L141.30 291.88L143.50 291.88L143.50 292.25L145.70 292.25L145.70 292.58L147.90 292.58L147.90 292.83L150.10 292.83L150.10 293.09L152.30 293.09L152.30 293.34L154.50 293.34L154.50 293.60L156.70 293.60L156.70 293.85L158.90 293.85L158.90 294.02L161.10 294.02L161.10 294.06L163.30 294.06L163.30 294.09L165.50 294.09L165.50 294.13L167.70 294.13L167.70 294.17L169.90 294.17L169.90 294.21L172.10 294.21L172.10 294.25L174.30 294.25L174.30 294.29L176.50 294.29L176.50 294.33L178.70 294.33L178.70 294.37L180.90 294.37L180.90 294.41L183.10 294.41L183.10 294.45L185.30 294.45L185.30 294.48L187.50 294.48L187.50 294.52L189.70 294.52L189.70 294.56L191.90 294.56L191.90 294.60L194.10 294.60L194.10 294.64L196.30 294.64L196.30 294.68L198.50 294.68L198.50 294.72L200.70 294.72L200.70 294.76L202.90 294.76L202.90 294.80L205.10 294.80L205.10 294.84L207.30 294.84L207.30 294.87L209.50 294.87L209.50 294.91L211.70 294.91L211.70 294.95L213.90 294.95L213.90 294.99L216.10 294.99L216.10 295.03L218.30 295.03L218.30 295.07L220.50 295.07L220.50 295.22L222.70 295.22L222.70 295.75L224.90 295.75L224.90 296.28L227.10 296.28L227.10 296.30L229.30 296.30L229.30 296.30L231.50 296.30L231.50 296.30L233.70 296.30L233.70 296.30L235.90 296.30L235.90 296.30L238.10 296.30L238.10 296.30L240.30 296.30L240.30 296.81L242.50 296.81L242.50 298.00L244.70 298.00L244.70 298.00L246.90 298.00L246.90 298.00L249.10 298.00L249.10 298.00L251.30 298.00L251.30 298.00L252.20 298.00L252.20 298.00" fill="none" stroke="#c4eac4" stroke-width="3.80" stroke-opacity="0.7" stroke-linejoin="round"/><path d="M44.50 251.60L46.70 251.60L46.70 254.90L48.90 254.90L48.90 258.23L51.10 258.23L51.10 261.59L53.30 261.59L53.30 263.67L55.50 263.67L55.50 265.53L57.70 265.53L57.70 267.07L59.90 267.07L59.90 268.60L62.10 268.60L62.10 270.02L64.30 270.02L64.30 271.35L66.50 271.35L66.50 272.68L68.70 272.68L68.70 273.56L70.90 273.56L70.90 274.23L73.10 274.23L73.10 274.90L75.30 274.90L75.30 275.57L77.50 275.57L77.50 276.42L79.70 276.42L79.70 277.28L81.90 277.28L81.90 278.14L84.10 278.14L84.10 279.02L86.30 279.02L86.30 279.97L88.50 279.97L88.50 280.92L90.70 280.92L90.70 281.87L92.90 281.87L92.90 282.76L95.10 282.76L95.10 283.47L97.30 283.47L97.30 284.18L99.50 284.18L99.50 284.89L101.70 284.89L101.70 285.60L103.90 285.60L103.90 286.01L106.10 286.01L106.10 286.37L108.30 286.37L108.30 286.72L110.50 286.72L110.50 287.07L112.70 287.07L112.70 287.40L114.90 287.40L114.90 287.74L117.10 287.74L117.10 288.06L119.30 288.06L119.30 288.39L121.50 288.39L121.50 288.73L123.70 288.73L123.70 289.06L125.90 289.06L125.90 289.38L128.10 289.38L128.10 289.71L130.30 289.71L130.30 290.05L132.50 290.05L132.50 290.42L134.70 290.42L134.70 290.78L136.90 290.78L136.90 291.15L139.10 291.15L139.10 291.52L141.30 291.52L141.30 291.88L143.50 291.88L143.50 292.25L145.70 292.25L145.70 292.58L147.90 292.58L147.90 292.83L150.10 292.83L150.10 293.09L152.30 293.09L152.30 293.34L154.50 293.34L154.50 293.60L156.70 293.60L156.70 293.85L158.90 293.85L158.90 294.02L161.10 294.02L161.10 294.06L163.30 294.06L163.30 294.09L165.50 294.09L165.50 294.13L167.70 294.13L167.70 294.17L169.90 294.17L169.90 294.21L172.10 294.21L172.10 294.25L174.30 294.25L174.30 294.29L176.50 294.29L176.50 294.33L178.70 294.33L178.70 294.37L180.90 294.37L180.90 294.41L183.10 294.41L183.10 294.45L185.30 294.45L185.30 294.48L187.50 294.48L187.50 294.52L189.70 294.52L189.70 294.56L191.90 294.56L191.90 294.60L194.10 294.60L194.10 294.64L196.30 294.64L196.30 294.68L198.50 294.68L198.50 294.72L200.70 294.72L200.70 294.76L202.90 294.76L202.90 294.80L205.10 294.80L205.10 294.84L207.30 294.84L207.30 294.87L209.50 294.87L209.50 294.91L211.70 294.91L211.70 294.95L213.90 294.95L213.90 294.99L216.10 294.99L216.10 295.03L218.30 295.03L218.30 295.07L220.50 295.07L220.50 295.22L222.70 295.22L222.70 295.75L224.90 295.75L224.90 296.28L227.10 296.28L227.10 296.30L229.30 296.30L229.30 296.30L231.50 296.30L231.50 296.30L233.70 296.30L233.70 296.30L235.90 296.30L235.90 296.30L238.10 296.30L238.10 296.30L240.30 296.30L240.30 296.81L242.50 296.81L242.50 298.00L244.70 298.00L244.70 298.00L246.90 298.00L246.90 298.00L249.10 298.00L249.10 298.00L251.30 298.00L251.30 298.00L252.20 298.00L252.20 298.00" fill="none" stroke="#4f9d58" stroke-width="1.40" stroke-linejoin="miter" />
<path d="M44.50 251.60L47.70 251.60L47.70 251.60L48.50 251.60L48.50 253.50L50.00 253.50L50.00 256.50L51.50 256.50L51.50 259.50L53.00 259.50L53.00 262.00L54.60 262.00L54.60 264.90L61.50 264.90L61.50 265.50L62.50 265.50L62.50 268.00L64.00 268.00L64.00 270.50L65.30 270.50L65.30 272.50L75.40 272.50L75.40 272.50L76.50 272.50L76.50 275.00L78.60 275.00L78.60 277.50L83.60 277.50L83.60 278.20L85.00 278.20L85.00 280.00L90.00 280.00L90.00 282.00L91.30 282.00L91.30 284.00L97.50 284.00L97.50 284.50L99.70 284.50L99.70 286.30L102.00 286.30L102.00 289.00L114.80 289.00L114.80 289.00L115.00 289.00L115.00 292.40L158.20 292.40L158.20 292.70L158.20 292.70L158.20 295.80L220.40 295.80L220.40 295.80L220.40 295.80L220.40 303.50L252.20 303.50L252.20 303.50" fill="none" stroke="#3a6e55" stroke-width="1.50" stroke-linejoin="miter" />
<path d="M44.50 251.60L45.20 251.60L45.20 258.60L46.70 258.60L46.70 263.85L48.90 263.85L48.90 269.50L51.10 269.50L51.10 273.75L53.30 273.75L53.30 277.50L55.50 277.50L55.50 280.45L57.70 280.45L57.70 283.18L59.90 283.18L59.90 285.33L62.10 285.33L62.10 287.91L64.30 287.91L64.30 290.86L66.50 290.86L66.50 294.71L68.70 294.71L68.70 299.75L70.90 299.75L70.90 305.25L73.10 305.25L73.10 308.90L75.30 308.90L75.30 310.69L77.50 310.69L77.50 311.70L79.70 311.70L79.70 312.07L81.90 312.07L81.90 312.43L84.10 312.43L84.10 312.80L86.30 312.80L86.30 313.33L88.50 313.33L88.50 314.05L90.70 314.05L90.70 314.78L92.90 314.78L92.90 315.51L95.10 315.51L95.10 316.23L97.30 316.23L97.30 316.97L99.50 316.97L99.50 317.70L101.70 317.70L101.70 318.43L103.90 318.43L103.90 319.16L106.10 319.16L106.10 319.89L108.30 319.89L108.30 320.62L110.50 320.62L110.50 321.34L112.70 321.34L112.70 322.13L114.90 322.13L114.90 323.61L117.10 323.61L117.10 325.08L119.30 325.08L119.30 326.56L121.50 326.56L121.50 328.03L123.70 328.03L123.70 328.80L125.90 328.80L125.90 329.53L128.10 329.53L128.10 330.27L130.30 330.27L130.30 331.00L132.50 331.00L132.50 331.34L134.70 331.34L134.70 331.61L136.90 331.61L136.90 331.88L139.10 331.88L139.10 332.15L141.30 332.15L141.30 332.43L143.50 332.43L143.50 332.75L145.70 332.75L145.70 333.18L147.90 333.18L147.90 333.60L150.10 333.60L150.10 334.07L152.30 334.07L152.30 335.50L154.50 335.50L154.50 336.93L156.70 336.93L156.70 337.42L158.90 337.42L158.90 337.87L161.10 337.87L161.10 338.31L163.30 338.31L163.30 338.75L165.50 338.75L165.50 339.20L167.70 339.20L167.70 339.67L169.90 339.67L169.90 340.16L172.10 340.16L172.10 340.64L174.30 340.64L174.30 341.11L176.50 341.11L176.50 341.51L178.70 341.51L178.70 341.90L180.90 341.90L180.90 342.30L183.10 342.30L183.10 342.50L185.30 342.50L185.30 342.50L187.50 342.50L187.50 342.50L189.70 342.50L189.70 342.50L191.90 342.50L191.90 342.50L194.10 342.50L194.10 342.50L196.30 342.50L196.30 342.50L198.50 342.50L198.50 342.50L200.70 342.50L200.70 342.50L202.90 342.50L202.90 342.50L205.10 342.50L205.10 342.50L207.30 342.50L207.30 342.50L209.50 342.50L209.50 342.50L211.70 342.50L211.70 342.50L213.90 342.50L213.90 342.50L216.10 342.50L216.10 342.50L218.30 342.50L218.30 342.50L220.50 342.50L220.50 342.50L222.70 342.50L222.70 342.50L224.90 342.50L224.90 342.50L227.10 342.50L227.10 342.50L229.30 342.50L229.30 342.50L231.50 342.50L231.50 342.50L233.70 342.50L233.70 342.50L235.90 342.50L235.90 342.50L238.10 342.50L238.10 342.50L240.30 342.50L240.30 342.50L242.50 342.50L242.50 342.50L244.70 342.50L244.70 342.50L246.90 342.50L246.90 342.50L249.10 342.50L249.10 342.50L251.30 342.50L251.30 342.50L252.20 342.50L252.20 342.50" fill="none" stroke="#4eaadb" stroke-width="1.40" stroke-linejoin="miter" />
<path d="M44.50 251.60L45.20 251.60L45.20 264.90L47.00 264.90L47.00 266.20L48.30 266.20L48.30 271.20L51.50 271.20L51.50 276.90L54.60 276.90L54.60 277.50L55.90 277.50L55.90 280.00L58.40 280.00L58.40 281.30L59.70 281.30L59.70 282.60L61.00 282.60L61.00 283.80L62.80 283.80L62.80 288.90L65.30 288.90L65.30 289.50L66.00 289.50L66.00 296.40L68.60 296.40L68.60 303.60L70.20 303.60L70.20 306.00L71.70 306.00L71.70 310.50L88.30 310.50L88.30 310.50L89.80 310.50L89.80 314.50L92.90 314.50L92.90 316.00L94.40 316.00L94.40 323.00L101.90 323.00L101.90 324.00L103.40 324.00L103.40 330.00L105.00 330.00L105.00 336.50L120.50 336.50L120.50 336.50L121.60 336.50L121.60 342.20L217.00 342.20L217.00 342.20" fill="none" stroke="#34507f" stroke-width="1.50" stroke-linejoin="miter" />
<line x1="44.50" y1="249.40" x2="44.50" y2="362.95" stroke="#2b2b2b" stroke-width="1.3"/>
<line x1="41.80" y1="362.30" x2="252.20" y2="362.30" stroke="#2b2b2b" stroke-width="1.4"/>
<line x1="41.80" y1="362.30" x2="44.50" y2="362.30" stroke="#2b2b2b" stroke-width="1.1"/>
<text x="38.90" y="364.85" font-size="7.40" text-anchor="end" fill="#333" font-weight="normal" >0.0</text>
<line x1="41.80" y1="340.16" x2="44.50" y2="340.16" stroke="#2b2b2b" stroke-width="1.1"/>
<text x="38.90" y="342.71" font-size="7.40" text-anchor="end" fill="#333" font-weight="normal" >0.2</text>
<line x1="41.80" y1="318.02" x2="44.50" y2="318.02" stroke="#2b2b2b" stroke-width="1.1"/>
<text x="38.90" y="320.57" font-size="7.40" text-anchor="end" fill="#333" font-weight="normal" >0.4</text>
<line x1="41.80" y1="295.88" x2="44.50" y2="295.88" stroke="#2b2b2b" stroke-width="1.1"/>
<text x="38.90" y="298.43" font-size="7.40" text-anchor="end" fill="#333" font-weight="normal" >0.6</text>
<line x1="41.80" y1="273.74" x2="44.50" y2="273.74" stroke="#2b2b2b" stroke-width="1.1"/>
<text x="38.90" y="276.29" font-size="7.40" text-anchor="end" fill="#333" font-weight="normal" >0.8</text>
<line x1="41.80" y1="251.60" x2="44.50" y2="251.60" stroke="#2b2b2b" stroke-width="1.1"/>
<text x="38.90" y="254.15" font-size="7.40" text-anchor="end" fill="#333" font-weight="normal" >1.0</text>
<line x1="44.50" y1="362.30" x2="44.50" y2="364.90" stroke="#2b2b2b" stroke-width="1.1"/>
<text x="44.50" y="375.00" font-size="7.30" text-anchor="middle" fill="#333" font-weight="normal" >0</text>
<line x1="64.95" y1="362.30" x2="64.95" y2="364.90" stroke="#2b2b2b" stroke-width="1.1"/>
<text x="64.95" y="375.00" font-size="7.30" text-anchor="middle" fill="#333" font-weight="normal" >12</text>
<line x1="85.40" y1="362.30" x2="85.40" y2="364.90" stroke="#2b2b2b" stroke-width="1.1"/>
<text x="85.40" y="375.00" font-size="7.30" text-anchor="middle" fill="#333" font-weight="normal" >24</text>
<line x1="105.85" y1="362.30" x2="105.85" y2="364.90" stroke="#2b2b2b" stroke-width="1.1"/>
<text x="105.85" y="375.00" font-size="7.30" text-anchor="middle" fill="#333" font-weight="normal" >36</text>
<line x1="126.30" y1="362.30" x2="126.30" y2="364.90" stroke="#2b2b2b" stroke-width="1.1"/>
<text x="126.30" y="375.00" font-size="7.30" text-anchor="middle" fill="#333" font-weight="normal" >48</text>
<line x1="146.75" y1="362.30" x2="146.75" y2="364.90" stroke="#2b2b2b" stroke-width="1.1"/>
<text x="146.75" y="375.00" font-size="7.30" text-anchor="middle" fill="#333" font-weight="normal" >60</text>
<line x1="167.20" y1="362.30" x2="167.20" y2="364.90" stroke="#2b2b2b" stroke-width="1.1"/>
<text x="167.20" y="375.00" font-size="7.30" text-anchor="middle" fill="#333" font-weight="normal" >72</text>
<line x1="187.65" y1="362.30" x2="187.65" y2="364.90" stroke="#2b2b2b" stroke-width="1.1"/>
<text x="187.65" y="375.00" font-size="7.30" text-anchor="middle" fill="#333" font-weight="normal" >84</text>
<line x1="208.10" y1="362.30" x2="208.10" y2="364.90" stroke="#2b2b2b" stroke-width="1.1"/>
<text x="208.10" y="375.00" font-size="7.30" text-anchor="middle" fill="#333" font-weight="normal" >96</text>
<line x1="228.55" y1="362.30" x2="228.55" y2="364.90" stroke="#2b2b2b" stroke-width="1.1"/>
<text x="228.55" y="375.00" font-size="7.30" text-anchor="middle" fill="#333" font-weight="normal" >108</text>
<line x1="249.00" y1="362.30" x2="249.00" y2="364.90" stroke="#2b2b2b" stroke-width="1.1"/>
<text x="249.00" y="375.00" font-size="7.30" text-anchor="middle" fill="#333" font-weight="normal" >120</text>
<path d="M305.40 251.60L307.90 251.60L307.90 255.10L310.40 255.10L310.40 257.12L312.90 257.12L312.90 259.14L315.40 259.14L315.40 261.12L317.90 261.12L317.90 263.11L320.40 263.11L320.40 265.40L322.90 265.40L322.90 267.90L325.40 267.90L325.40 270.36L327.90 270.36L327.90 272.34L330.40 272.34L330.40 274.33L332.90 274.33L332.90 276.04L335.40 276.04L335.40 277.55L337.90 277.55L337.90 279.06L340.40 279.06L340.40 280.57L342.90 280.57L342.90 282.08L345.40 282.08L345.40 283.32L347.90 283.32L347.90 284.31L350.40 284.31L350.40 285.30L352.90 285.30L352.90 286.95L355.40 286.95L355.40 288.60L357.90 288.60L357.90 290.06L360.40 290.06L360.40 291.45L362.90 291.45L362.90 292.84L365.40 292.84L365.40 293.38L367.90 293.38L367.90 293.87L370.40 293.87L370.40 294.37L372.90 294.37L372.90 294.86L375.40 294.86L375.40 295.36L377.90 295.36L377.90 295.62L380.40 295.62L380.40 295.86L382.90 295.86L382.90 296.10L385.40 296.10L385.40 296.33L387.90 296.33L387.90 296.57L390.40 296.57L390.40 296.83L392.90 296.83L392.90 297.08L395.40 297.08L395.40 297.34L397.90 297.34L397.90 297.60L400.40 297.60L400.40 297.86L402.90 297.86L402.90 298.04L405.40 298.04L405.40 298.21L407.90 298.21L407.90 298.38L410.40 298.38L410.40 298.55L412.90 298.55L412.90 298.72L415.40 298.72L415.40 298.89L417.90 298.89L417.90 299.06L420.40 299.06L420.40 299.22L422.90 299.22L422.90 299.32L425.40 299.32L425.40 299.42L427.90 299.42L427.90 299.52L430.40 299.52L430.40 299.62L432.90 299.62L432.90 299.72L435.40 299.72L435.40 299.82L437.90 299.82L437.90 299.92L440.40 299.92L440.40 300.96L440.50 300.96L440.50 301.20L442.90 301.20L442.90 301.20L445.40 301.20L445.40 301.20L447.90 301.20L447.90 301.20L450.40 301.20L450.40 301.20L452.90 301.20L452.90 301.20L455.40 301.20L455.40 301.20L457.90 301.20L457.90 301.20L460.40 301.20L460.40 301.20L462.90 301.20L462.90 301.20L465.40 301.20L465.40 301.20L467.90 301.20L467.90 301.20L470.40 301.20L470.40 301.20L472.90 301.20L472.90 301.20L475.40 301.20L475.40 301.20L477.90 301.20L477.90 301.20L480.40 301.20L480.40 301.20L482.90 301.20L482.90 301.20L485.40 301.20L485.40 301.20L487.90 301.20L487.90 301.20L490.40 301.20L490.40 301.20L492.90 301.20L492.90 301.20L495.40 301.20L495.40 301.20L497.90 301.20L497.90 301.20L500.40 301.20L500.40 301.20L502.90 301.20L502.90 301.20L505.40 301.20L505.40 301.20L507.90 301.20L507.90 301.20L510.40 301.20L510.40 301.20L512.90 301.20L512.90 301.20L513.00 301.20L513.00 301.20L513.00 335.50L513.00 335.50L512.90 335.50L512.90 335.50L510.40 335.50L510.40 335.50L507.90 335.50L507.90 335.50L505.40 335.50L505.40 335.50L502.90 335.50L502.90 335.50L500.40 335.50L500.40 335.50L497.90 335.50L497.90 335.50L495.40 335.50L495.40 335.50L492.90 335.50L492.90 335.50L490.40 335.50L490.40 335.50L487.90 335.50L487.90 335.50L485.40 335.50L485.40 335.50L482.90 335.50L482.90 335.50L480.40 335.50L480.40 335.50L477.90 335.50L477.90 335.50L475.40 335.50L475.40 335.50L472.90 335.50L472.90 335.50L470.40 335.50L470.40 335.50L467.90 335.50L467.90 335.50L465.40 335.50L465.40 335.50L462.90 335.50L462.90 335.50L460.40 335.50L460.40 335.50L457.90 335.50L457.90 335.50L455.40 335.50L455.40 335.50L452.90 335.50L452.90 335.50L450.40 335.50L450.40 335.50L447.90 335.50L447.90 335.50L445.40 335.50L445.40 335.50L442.90 335.50L442.90 335.50L440.40 335.50L440.40 335.50L437.90 335.50L437.90 335.50L435.40 335.50L435.40 335.50L432.90 335.50L432.90 335.50L430.40 335.50L430.40 335.50L427.90 335.50L427.90 335.50L425.40 335.50L425.40 335.50L422.90 335.50L422.90 335.50L420.50 335.50L420.50 334.52L420.40 334.52L420.40 330.60L417.90 330.60L417.90 330.60L415.40 330.60L415.40 330.60L412.90 330.60L412.90 330.60L410.40 330.60L410.40 330.60L407.90 330.60L407.90 330.60L405.40 330.60L405.40 330.60L402.90 330.60L402.90 330.60L400.40 330.60L400.40 330.60L397.90 330.60L397.90 330.60L395.40 330.60L395.40 330.60L392.90 330.60L392.90 330.60L390.40 330.60L390.40 330.60L387.90 330.60L387.90 330.60L385.40 330.60L385.40 330.53L382.90 330.53L382.90 329.70L380.40 329.70L380.40 328.87L377.90 328.87L377.90 328.03L375.40 328.03L375.40 327.21L372.90 327.21L372.90 326.39L370.40 326.39L370.40 325.50L367.90 325.50L367.90 323.00L365.40 323.00L365.40 320.55L362.90 320.55L362.90 319.30L360.40 319.30L360.40 318.05L357.90 318.05L357.90 316.80L355.40 316.80L355.40 315.55L352.90 315.55L352.90 314.30L350.40 314.30L350.40 312.79L347.90 312.79L347.90 311.28L345.40 311.28L345.40 309.78L342.90 309.78L342.90 308.27L340.40 308.27L340.40 306.76L337.90 306.76L337.90 304.30L335.40 304.30L335.40 301.80L332.90 301.80L332.90 299.30L330.40 299.30L330.40 296.80L327.90 296.80L327.90 294.30L325.40 294.30L325.40 291.36L322.90 291.36L322.90 288.39L320.40 288.39L320.40 285.19L317.90 285.19L317.90 281.66L315.40 281.66L315.40 278.12L312.90 278.12L312.90 274.21L310.40 274.21L310.40 270.24L307.90 270.24L307.90 251.60L305.40 251.60Z" fill="#d6d6e8" fill-opacity="0.85" stroke="none"/>
<path d="M305.40 251.60L307.90 251.60L307.90 255.50L310.40 255.50L310.40 259.01L312.90 259.01L312.90 262.36L315.40 262.36L315.40 265.58L317.90 265.58L317.90 268.78L320.40 268.78L320.40 271.76L322.90 271.76L322.90 274.56L325.40 274.56L325.40 277.28L327.90 277.28L327.90 279.59L330.40 279.59L330.40 281.91L332.90 281.91L332.90 283.94L335.40 283.94L335.40 285.76L337.90 285.76L337.90 287.56L340.40 287.56L340.40 288.91L342.90 288.91L342.90 290.27L345.40 290.27L345.40 291.37L347.90 291.37L347.90 292.22L350.40 292.22L350.40 293.07L352.90 293.07L352.90 293.79L355.40 293.79L355.40 294.51L357.90 294.51L357.90 295.10L360.40 295.10L360.40 295.66L362.90 295.66L362.90 296.22L365.40 296.22L365.40 296.57L367.90 296.57L367.90 296.91L370.40 296.91L370.40 297.30L372.90 297.30L372.90 297.72L375.40 297.72L375.40 298.14L377.90 298.14L377.90 298.53L380.40 298.53L380.40 298.92L382.90 298.92L382.90 299.32L385.40 299.32L385.40 299.71L387.90 299.71L387.90 300.10L390.40 300.10L390.40 300.51L392.90 300.51L392.90 300.92L395.40 300.92L395.40 301.32L397.90 301.32L397.90 301.73L400.40 301.73L400.40 302.13L402.90 302.13L402.90 302.70L405.40 302.70L405.40 303.29L407.90 303.29L407.90 303.88L410.40 303.88L410.40 304.26L412.90 304.26L412.90 304.58L415.40 304.58L415.40 304.91L417.90 304.91L417.90 305.23L420.40 305.23L420.40 305.52L422.90 305.52L422.90 305.62L425.40 305.62L425.40 305.73L427.90 305.73L427.90 305.84L430.40 305.84L430.40 305.95L432.90 305.95L432.90 306.05L435.40 306.05L435.40 306.16L437.90 306.16L437.90 306.27L440.40 306.27L440.40 306.37L442.90 306.37L442.90 306.46L445.40 306.46L445.40 306.50L447.90 306.50L447.90 306.50L450.40 306.50L450.40 306.50L452.90 306.50L452.90 306.50L455.40 306.50L455.40 306.50L457.90 306.50L457.90 306.50L460.40 306.50L460.40 306.50L462.90 306.50L462.90 306.50L465.40 306.50L465.40 306.50L467.90 306.50L467.90 306.50L470.40 306.50L470.40 306.50L472.90 306.50L472.90 306.50L475.40 306.50L475.40 306.50L477.90 306.50L477.90 306.50L480.40 306.50L480.40 306.50L482.90 306.50L482.90 306.50L485.40 306.50L485.40 306.50L487.90 306.50L487.90 306.50L490.40 306.50L490.40 306.50L492.90 306.50L492.90 306.50L495.40 306.50L495.40 306.50L497.90 306.50L497.90 306.50L500.40 306.50L500.40 306.50L502.90 306.50L502.90 306.50L505.40 306.50L505.40 306.50L507.90 306.50L507.90 306.50L510.40 306.50L510.40 306.50L512.90 306.50L512.90 306.50L513.00 306.50L513.00 306.50L513.00 318.00L513.00 318.00L512.90 318.00L512.90 318.00L510.40 318.00L510.40 318.00L507.90 318.00L507.90 318.00L505.40 318.00L505.40 318.00L502.90 318.00L502.90 318.00L500.40 318.00L500.40 318.00L497.90 318.00L497.90 318.00L495.40 318.00L495.40 318.00L492.90 318.00L492.90 318.00L490.40 318.00L490.40 318.00L487.90 318.00L487.90 318.00L485.40 318.00L485.40 318.00L482.90 318.00L482.90 318.00L480.40 318.00L480.40 318.00L477.90 318.00L477.90 318.00L475.40 318.00L475.40 318.00L472.90 318.00L472.90 318.00L470.40 318.00L470.40 318.00L467.90 318.00L467.90 318.00L465.40 318.00L465.40 318.00L462.90 318.00L462.90 318.00L460.40 318.00L460.40 318.00L457.90 318.00L457.90 318.00L455.40 318.00L455.40 318.00L452.90 318.00L452.90 318.00L450.40 318.00L450.40 318.00L447.90 318.00L447.90 318.00L445.40 318.00L445.40 317.96L442.90 317.96L442.90 317.87L440.40 317.87L440.40 317.77L437.90 317.77L437.90 317.66L435.40 317.66L435.40 317.55L432.90 317.55L432.90 317.45L430.40 317.45L430.40 317.34L427.90 317.34L427.90 317.23L425.40 317.23L425.40 317.12L422.90 317.12L422.90 317.02L420.40 317.02L420.40 316.73L417.90 316.73L417.90 316.41L415.40 316.41L415.40 316.08L412.90 316.08L412.90 315.76L410.40 315.76L410.40 315.38L407.90 315.38L407.90 314.79L405.40 314.79L405.40 314.20L402.90 314.20L402.90 313.61L400.40 313.61L400.40 313.06L397.90 313.06L397.90 312.50L395.40 312.50L395.40 311.95L392.90 311.95L392.90 311.40L390.40 311.40L390.40 310.84L387.90 310.84L387.90 310.28L385.40 310.28L385.40 309.72L382.90 309.72L382.90 309.16L380.40 309.16L380.40 308.59L377.90 308.59L377.90 308.03L375.40 308.03L375.40 307.43L372.90 307.43L372.90 306.83L370.40 306.83L370.40 306.26L367.90 306.26L367.90 305.72L365.40 305.72L365.40 305.18L362.90 305.18L362.90 304.42L360.40 304.42L360.40 303.67L357.90 303.67L357.90 302.87L355.40 302.87L355.40 301.94L352.90 301.94L352.90 301.00L350.40 301.00L350.40 299.92L347.90 299.92L347.90 298.84L345.40 298.84L345.40 297.51L342.90 297.51L342.90 295.90L340.40 295.90L340.40 294.30L337.90 294.30L337.90 292.23L335.40 292.23L335.40 290.13L332.90 290.13L332.90 287.81L330.40 287.81L330.40 285.19L327.90 285.19L327.90 282.57L325.40 282.57L325.40 279.50L322.90 279.50L322.90 276.33L320.40 276.33L320.40 272.95L317.90 272.95L317.90 269.32L315.40 269.32L315.40 265.59L312.90 265.59L312.90 261.62L310.40 261.62L310.40 257.28L307.90 257.28L307.90 251.60L305.40 251.60Z" fill="#cfe9cc" fill-opacity="0.60" stroke="none"/>
<path d="M305.40 251.60L307.60 251.60L307.60 256.06L309.80 256.06L309.80 259.70L312.00 259.70L312.00 263.00L314.20 263.00L314.20 266.16L316.40 266.16L316.40 269.24L318.60 269.24L318.60 272.29L320.80 272.29L320.80 275.03L323.00 275.03L323.00 277.69L325.20 277.69L325.20 280.30L327.40 280.30L327.40 282.50L329.60 282.50L329.60 284.70L331.80 284.70L331.80 286.84L334.00 286.84L334.00 288.58L336.20 288.58L336.20 290.33L338.40 290.33L338.40 291.96L340.60 291.96L340.60 293.29L342.80 293.29L342.80 294.62L345.00 294.62L345.00 295.76L347.20 295.76L347.20 296.63L349.40 296.63L349.40 297.50L351.60 297.50L351.60 298.31L353.80 298.31L353.80 299.05L356.00 299.05L356.00 299.80L358.20 299.80L358.20 300.40L360.40 300.40L360.40 300.99L362.60 300.99L362.60 301.59L364.80 301.59L364.80 302.03L367.00 302.03L367.00 302.43L369.20 302.43L369.20 302.84L371.40 302.84L371.40 303.31L373.60 303.31L373.60 303.78L375.80 303.78L375.80 304.24L378.00 304.24L378.00 304.68L380.20 304.68L380.20 305.11L382.40 305.11L382.40 305.55L384.60 305.55L384.60 305.99L386.80 305.99L386.80 306.42L389.00 306.42L389.00 306.86L391.20 306.86L391.20 307.30L393.40 307.30L393.40 307.73L395.60 307.73L395.60 308.17L397.80 308.17L397.80 308.60L400.00 308.60L400.00 309.04L402.20 309.04L402.20 309.53L404.40 309.53L404.40 310.05L406.60 310.05L406.60 310.57L408.80 310.57L408.80 311.05L411.00 311.05L411.00 311.34L413.20 311.34L413.20 311.62L415.40 311.62L415.40 311.91L417.60 311.91L417.60 312.19L419.80 312.19L419.80 312.47L422.00 312.47L422.00 312.59L424.20 312.59L424.20 312.68L426.40 312.68L426.40 312.78L428.60 312.78L428.60 312.87L430.80 312.87L430.80 312.96L433.00 312.96L433.00 313.06L435.20 313.06L435.20 313.15L437.40 313.15L437.40 313.25L439.60 313.25L439.60 313.34L441.80 313.34L441.80 313.42L444.00 313.42L444.00 313.50L446.20 313.50L446.20 313.50L448.40 313.50L448.40 313.50L450.60 313.50L450.60 313.50L452.80 313.50L452.80 313.50L455.00 313.50L455.00 313.50L457.20 313.50L457.20 313.50L459.40 313.50L459.40 313.50L461.60 313.50L461.60 313.50L463.80 313.50L463.80 313.50L466.00 313.50L466.00 313.50L468.20 313.50L468.20 313.50L470.40 313.50L470.40 313.50L472.60 313.50L472.60 313.50L474.80 313.50L474.80 313.50L477.00 313.50L477.00 313.50L479.20 313.50L479.20 313.50L481.40 313.50L481.40 313.50L483.60 313.50L483.60 313.50L485.80 313.50L485.80 313.50L488.00 313.50L488.00 313.50L490.20 313.50L490.20 313.50L492.40 313.50L492.40 313.50L494.60 313.50L494.60 313.50L496.80 313.50L496.80 313.50L499.00 313.50L499.00 313.50L501.20 313.50L501.20 313.50L503.40 313.50L503.40 313.50L505.60 313.50L505.60 313.50L507.80 313.50L507.80 313.50L510.00 313.50L510.00 313.50L512.20 313.50L512.20 313.50L513.00 313.50L513.00 313.50" fill="none" stroke="#c4eac4" stroke-width="3.80" stroke-opacity="0.7" stroke-linejoin="round"/><path d="M305.40 251.60L307.60 251.60L307.60 256.06L309.80 256.06L309.80 259.70L312.00 259.70L312.00 263.00L314.20 263.00L314.20 266.16L316.40 266.16L316.40 269.24L318.60 269.24L318.60 272.29L320.80 272.29L320.80 275.03L323.00 275.03L323.00 277.69L325.20 277.69L325.20 280.30L327.40 280.30L327.40 282.50L329.60 282.50L329.60 284.70L331.80 284.70L331.80 286.84L334.00 286.84L334.00 288.58L336.20 288.58L336.20 290.33L338.40 290.33L338.40 291.96L340.60 291.96L340.60 293.29L342.80 293.29L342.80 294.62L345.00 294.62L345.00 295.76L347.20 295.76L347.20 296.63L349.40 296.63L349.40 297.50L351.60 297.50L351.60 298.31L353.80 298.31L353.80 299.05L356.00 299.05L356.00 299.80L358.20 299.80L358.20 300.40L360.40 300.40L360.40 300.99L362.60 300.99L362.60 301.59L364.80 301.59L364.80 302.03L367.00 302.03L367.00 302.43L369.20 302.43L369.20 302.84L371.40 302.84L371.40 303.31L373.60 303.31L373.60 303.78L375.80 303.78L375.80 304.24L378.00 304.24L378.00 304.68L380.20 304.68L380.20 305.11L382.40 305.11L382.40 305.55L384.60 305.55L384.60 305.99L386.80 305.99L386.80 306.42L389.00 306.42L389.00 306.86L391.20 306.86L391.20 307.30L393.40 307.30L393.40 307.73L395.60 307.73L395.60 308.17L397.80 308.17L397.80 308.60L400.00 308.60L400.00 309.04L402.20 309.04L402.20 309.53L404.40 309.53L404.40 310.05L406.60 310.05L406.60 310.57L408.80 310.57L408.80 311.05L411.00 311.05L411.00 311.34L413.20 311.34L413.20 311.62L415.40 311.62L415.40 311.91L417.60 311.91L417.60 312.19L419.80 312.19L419.80 312.47L422.00 312.47L422.00 312.59L424.20 312.59L424.20 312.68L426.40 312.68L426.40 312.78L428.60 312.78L428.60 312.87L430.80 312.87L430.80 312.96L433.00 312.96L433.00 313.06L435.20 313.06L435.20 313.15L437.40 313.15L437.40 313.25L439.60 313.25L439.60 313.34L441.80 313.34L441.80 313.42L444.00 313.42L444.00 313.50L446.20 313.50L446.20 313.50L448.40 313.50L448.40 313.50L450.60 313.50L450.60 313.50L452.80 313.50L452.80 313.50L455.00 313.50L455.00 313.50L457.20 313.50L457.20 313.50L459.40 313.50L459.40 313.50L461.60 313.50L461.60 313.50L463.80 313.50L463.80 313.50L466.00 313.50L466.00 313.50L468.20 313.50L468.20 313.50L470.40 313.50L470.40 313.50L472.60 313.50L472.60 313.50L474.80 313.50L474.80 313.50L477.00 313.50L477.00 313.50L479.20 313.50L479.20 313.50L481.40 313.50L481.40 313.50L483.60 313.50L483.60 313.50L485.80 313.50L485.80 313.50L488.00 313.50L488.00 313.50L490.20 313.50L490.20 313.50L492.40 313.50L492.40 313.50L494.60 313.50L494.60 313.50L496.80 313.50L496.80 313.50L499.00 313.50L499.00 313.50L501.20 313.50L501.20 313.50L503.40 313.50L503.40 313.50L505.60 313.50L505.60 313.50L507.80 313.50L507.80 313.50L510.00 313.50L510.00 313.50L512.20 313.50L512.20 313.50L513.00 313.50L513.00 313.50" fill="none" stroke="#4f9d58" stroke-width="1.40" stroke-linejoin="miter" />
<path d="M305.40 251.60L306.00 251.60L306.00 259.00L306.30 259.00L306.30 260.10L308.40 260.10L308.40 263.00L311.00 263.00L311.00 270.00L312.60 270.00L312.60 272.70L319.00 272.70L319.00 273.60L320.20 273.60L320.20 275.20L322.70 275.20L322.70 282.80L325.20 282.80L325.20 287.80L331.50 287.80L331.50 290.30L336.50 290.30L336.50 295.40L341.60 295.40L341.60 297.90L346.60 297.90L346.60 299.20L350.40 299.20L350.40 302.90L352.90 302.90L352.90 305.50L360.50 305.50L360.50 306.70L364.20 306.70L364.20 311.80L367.00 311.80L367.00 314.00L383.00 314.00L383.00 314.30L383.20 314.30L383.20 318.00L419.40 318.00L419.40 318.00L419.60 318.00L419.60 322.20L513.00 322.20L513.00 322.20" fill="none" stroke="#d2ddf4" stroke-width="3.80" stroke-opacity="0.7" stroke-linejoin="round"/><path d="M305.40 251.60L306.00 251.60L306.00 259.00L306.30 259.00L306.30 260.10L308.40 260.10L308.40 263.00L311.00 263.00L311.00 270.00L312.60 270.00L312.60 272.70L319.00 272.70L319.00 273.60L320.20 273.60L320.20 275.20L322.70 275.20L322.70 282.80L325.20 282.80L325.20 287.80L331.50 287.80L331.50 290.30L336.50 290.30L336.50 295.40L341.60 295.40L341.60 297.90L346.60 297.90L346.60 299.20L350.40 299.20L350.40 302.90L352.90 302.90L352.90 305.50L360.50 305.50L360.50 306.70L364.20 306.70L364.20 311.80L367.00 311.80L367.00 314.00L383.00 314.00L383.00 314.30L383.20 314.30L383.20 318.00L419.40 318.00L419.40 318.00L419.60 318.00L419.60 322.20L513.00 322.20L513.00 322.20" fill="none" stroke="#34507f" stroke-width="1.40" stroke-linejoin="miter" />
<line x1="305.40" y1="249.40" x2="305.40" y2="362.95" stroke="#2b2b2b" stroke-width="1.3"/>
<line x1="302.70" y1="362.30" x2="513.10" y2="362.30" stroke="#2b2b2b" stroke-width="1.4"/>
<line x1="302.70" y1="362.30" x2="305.40" y2="362.30" stroke="#2b2b2b" stroke-width="1.1"/>
<text x="299.80" y="364.85" font-size="7.40" text-anchor="end" fill="#333" font-weight="normal" >0.0</text>
<line x1="302.70" y1="340.16" x2="305.40" y2="340.16" stroke="#2b2b2b" stroke-width="1.1"/>
<text x="299.80" y="342.71" font-size="7.40" text-anchor="end" fill="#333" font-weight="normal" >0.2</text>
<line x1="302.70" y1="318.02" x2="305.40" y2="318.02" stroke="#2b2b2b" stroke-width="1.1"/>
<text x="299.80" y="320.57" font-size="7.40" text-anchor="end" fill="#333" font-weight="normal" >0.4</text>
<line x1="302.70" y1="295.88" x2="305.40" y2="295.88" stroke="#2b2b2b" stroke-width="1.1"/>
<text x="299.80" y="298.43" font-size="7.40" text-anchor="end" fill="#333" font-weight="normal" >0.6</text>
<line x1="302.70" y1="273.74" x2="305.40" y2="273.74" stroke="#2b2b2b" stroke-width="1.1"/>
<text x="299.80" y="276.29" font-size="7.40" text-anchor="end" fill="#333" font-weight="normal" >0.8</text>
<line x1="302.70" y1="251.60" x2="305.40" y2="251.60" stroke="#2b2b2b" stroke-width="1.1"/>
<text x="299.80" y="254.15" font-size="7.40" text-anchor="end" fill="#333" font-weight="normal" >1.0</text>
<line x1="305.40" y1="362.30" x2="305.40" y2="364.90" stroke="#2b2b2b" stroke-width="1.1"/>
<text x="305.40" y="375.00" font-size="7.30" text-anchor="middle" fill="#333" font-weight="normal" >0</text>
<line x1="325.85" y1="362.30" x2="325.85" y2="364.90" stroke="#2b2b2b" stroke-width="1.1"/>
<text x="325.85" y="375.00" font-size="7.30" text-anchor="middle" fill="#333" font-weight="normal" >12</text>
<line x1="346.30" y1="362.30" x2="346.30" y2="364.90" stroke="#2b2b2b" stroke-width="1.1"/>
<text x="346.30" y="375.00" font-size="7.30" text-anchor="middle" fill="#333" font-weight="normal" >24</text>
<line x1="366.75" y1="362.30" x2="366.75" y2="364.90" stroke="#2b2b2b" stroke-width="1.1"/>
<text x="366.75" y="375.00" font-size="7.30" text-anchor="middle" fill="#333" font-weight="normal" >36</text>
<line x1="387.20" y1="362.30" x2="387.20" y2="364.90" stroke="#2b2b2b" stroke-width="1.1"/>
<text x="387.20" y="375.00" font-size="7.30" text-anchor="middle" fill="#333" font-weight="normal" >48</text>
<line x1="407.65" y1="362.30" x2="407.65" y2="364.90" stroke="#2b2b2b" stroke-width="1.1"/>
<text x="407.65" y="375.00" font-size="7.30" text-anchor="middle" fill="#333" font-weight="normal" >60</text>
<line x1="428.10" y1="362.30" x2="428.10" y2="364.90" stroke="#2b2b2b" stroke-width="1.1"/>
<text x="428.10" y="375.00" font-size="7.30" text-anchor="middle" fill="#333" font-weight="normal" >72</text>
<line x1="448.55" y1="362.30" x2="448.55" y2="364.90" stroke="#2b2b2b" stroke-width="1.1"/>
<text x="448.55" y="375.00" font-size="7.30" text-anchor="middle" fill="#333" font-weight="normal" >84</text>
<line x1="469.00" y1="362.30" x2="469.00" y2="364.90" stroke="#2b2b2b" stroke-width="1.1"/>
<text x="469.00" y="375.00" font-size="7.30" text-anchor="middle" fill="#333" font-weight="normal" >96</text>
<line x1="489.45" y1="362.30" x2="489.45" y2="364.90" stroke="#2b2b2b" stroke-width="1.1"/>
<text x="489.45" y="375.00" font-size="7.30" text-anchor="middle" fill="#333" font-weight="normal" >108</text>
<line x1="509.90" y1="362.30" x2="509.90" y2="364.90" stroke="#2b2b2b" stroke-width="1.1"/>
<text x="509.90" y="375.00" font-size="7.30" text-anchor="middle" fill="#333" font-weight="normal" >120</text>
<text x="6.60" y="15.70" font-size="10.60" text-anchor="start" fill="#111" font-weight="bold" style="stroke:#111;stroke-width:0.35px">A</text>
<text x="267.40" y="16.20" font-size="10.60" text-anchor="start" fill="#111" font-weight="bold" style="stroke:#111;stroke-width:0.35px">B</text>
<text x="6.60" y="211.60" font-size="10.60" text-anchor="start" fill="#111" font-weight="bold" style="stroke:#111;stroke-width:0.35px">C</text>
<text x="267.40" y="211.60" font-size="10.60" text-anchor="start" fill="#111" font-weight="bold" style="stroke:#111;stroke-width:0.35px">D</text>
<text x="141.80" y="16.30" font-size="10.00" text-anchor="start" fill="#231f20" font-weight="normal" textLength="13.40" lengthAdjust="spacingAndGlyphs" >OS</text>
<text x="403.00" y="16.40" font-size="10.00" text-anchor="start" fill="#231f20" font-weight="normal" textLength="13.20" lengthAdjust="spacingAndGlyphs" >OS</text>
<text x="142.20" y="212.00" font-size="10.00" text-anchor="start" fill="#231f20" font-weight="normal" textLength="12.80" lengthAdjust="spacingAndGlyphs" >OS</text>
<text x="402.90" y="211.90" font-size="10.00" text-anchor="start" fill="#231f20" font-weight="normal" textLength="13.00" lengthAdjust="spacingAndGlyphs" >OS</text>
<rect x="89.00" y="27.30" width="8.60" height="5.00" fill="#cfe9cc"/><line x1="89.00" y1="29.80" x2="97.60" y2="29.80" stroke="#4f9d58" stroke-width="1.70"/>
<text x="101.10" y="32.20" font-size="7.00" text-anchor="start" fill="#231f20" font-weight="normal" textLength="35.40" lengthAdjust="spacingAndGlyphs" >ELN22 FAV</text>
<rect x="89.00" y="38.40" width="8.60" height="5.00" fill="#d6d6e8"/><line x1="89.00" y1="40.90" x2="97.60" y2="40.90" stroke="#34507f" stroke-width="1.70"/>
<text x="101.10" y="43.20" font-size="7.00" text-anchor="start" fill="#231f20" font-weight="normal" textLength="13.50" lengthAdjust="spacingAndGlyphs" >CBF</text>
<rect x="145.00" y="27.10" width="9.50" height="5.00" fill="#ececee"/><line x1="145.00" y1="29.60" x2="154.50" y2="29.60" stroke="#c4c1c6" stroke-width="1.70"/>
<text x="158.2" y="32.2" font-size="7.0" fill="#231f20" textLength="31.5" lengthAdjust="spacingAndGlyphs"><tspan font-style="italic">NPM1</tspan>mut</text>
<rect x="145.00" y="38.60" width="9.50" height="5.00" fill="#c9e6f4"/><line x1="145.00" y1="41.10" x2="154.50" y2="41.10" stroke="#4eaadb" stroke-width="1.70"/>
<text x="158.2" y="43.2" font-size="7.0" fill="#231f20" textLength="50.8" lengthAdjust="spacingAndGlyphs"><tspan font-style="italic">CEBPA</tspan>bZIPmut</text>
<text x="186.0" y="60.4" font-size="7.0" fill="#231f20" textLength="57.2" lengthAdjust="spacingAndGlyphs">log-rank <tspan font-style="italic">P</tspan> = .026</text>
<rect x="353.00" y="23.10" width="8.80" height="5.00" fill="#cfe9cc"/><line x1="353.00" y1="25.60" x2="361.80" y2="25.60" stroke="#4f9d58" stroke-width="1.70"/>
<text x="364.80" y="28.10" font-size="7.00" text-anchor="start" fill="#231f20" font-weight="normal" textLength="53.60" lengthAdjust="spacingAndGlyphs" >ELN22 FAV/MR–</text>
<rect x="424.20" y="23.40" width="9.00" height="5.00" fill="#d6d6e8"/><line x1="424.20" y1="25.90" x2="433.20" y2="25.90" stroke="#34507f" stroke-width="1.70"/>
<text x="436.40" y="28.10" font-size="7.00" text-anchor="start" fill="#231f20" font-weight="normal" textLength="54.00" lengthAdjust="spacingAndGlyphs" >ELN22 FAV/MR+</text>
<text x="455.6" y="48.6" font-size="7.0" fill="#231f20" textLength="48.0" lengthAdjust="spacingAndGlyphs">log-rank <tspan font-style="italic">P</tspan> = .3</text>
<rect x="77.70" y="221.40" width="8.80" height="5.00" fill="#cfe9cc"/><line x1="77.70" y1="223.90" x2="86.50" y2="223.90" stroke="#4f9d58" stroke-width="1.70"/>
<text x="89.40" y="226.10" font-size="7.00" text-anchor="start" fill="#231f20" font-weight="normal" textLength="67.80" lengthAdjust="spacingAndGlyphs" >ELN22 FAV MR– ≤60</text>
<rect x="77.70" y="232.40" width="8.80" height="5.00" fill="#c9e6f4"/><line x1="77.70" y1="234.90" x2="86.50" y2="234.90" stroke="#4eaadb" stroke-width="1.70"/>
<text x="89.40" y="237.50" font-size="7.00" text-anchor="start" fill="#231f20" font-weight="normal" textLength="67.80" lengthAdjust="spacingAndGlyphs" >ELN22 FAV MR– &gt;60</text>
<rect x="163.40" y="221.30" width="8.90" height="5.00" fill="#d8dfda"/><line x1="163.40" y1="223.80" x2="172.30" y2="223.80" stroke="#3a6e55" stroke-width="1.70"/>
<text x="175.40" y="226.10" font-size="7.00" text-anchor="start" fill="#231f20" font-weight="normal" textLength="68.80" lengthAdjust="spacingAndGlyphs" >ELN22 FAV MR+ ≤60</text>
<rect x="163.40" y="232.40" width="8.90" height="5.00" fill="#d6d6e8"/><line x1="163.40" y1="234.90" x2="172.30" y2="234.90" stroke="#34507f" stroke-width="1.70"/>
<text x="175.40" y="237.50" font-size="7.00" text-anchor="start" fill="#231f20" font-weight="normal" textLength="68.80" lengthAdjust="spacingAndGlyphs" >ELN22 FAV MR+ &gt;60</text>
<text x="178.60" y="251.60" font-size="7.00" text-anchor="start" fill="#231f20" font-weight="normal" textLength="69.80" lengthAdjust="spacingAndGlyphs" >Pairwise log-rank test</text>
<text x="109.1" y="261.3" font-size="7.0" fill="#231f20" textLength="139.2" lengthAdjust="spacingAndGlyphs">FAV MR– ≤60 vs. FAV MR+ ≤60 <tspan font-style="italic">P</tspan> = .769</text>
<text x="109.1" y="271.6" font-size="7.0" fill="#231f20" textLength="139.2" lengthAdjust="spacingAndGlyphs">FAV MR– &gt;60 vs. FAV MR+ &gt;60 <tspan font-style="italic">P</tspan> = .769</text>
<rect x="376.60" y="224.90" width="9.40" height="5.00" fill="#cfe9cc"/><line x1="376.60" y1="227.40" x2="386.00" y2="227.40" stroke="#4f9d58" stroke-width="1.70"/>
<text x="389.0" y="229.8" font-size="7.0" fill="#231f20" textLength="87.5" lengthAdjust="spacingAndGlyphs">ELN22 FAV/<tspan font-style="italic">NPM1</tspan>mut/MR–</text>
<rect x="376.60" y="235.20" width="9.40" height="5.00" fill="#d6d6e8"/><line x1="376.60" y1="237.70" x2="386.00" y2="237.70" stroke="#34507f" stroke-width="1.70"/>
<text x="389.0" y="240.5" font-size="7.0" fill="#231f20" textLength="88.0" lengthAdjust="spacingAndGlyphs">ELN22 FAV/<tspan font-style="italic">NPM1</tspan>mut/MR+</text>
<text x="450.7" y="263.6" font-size="7.0" fill="#231f20" textLength="52.2" lengthAdjust="spacingAndGlyphs">log-rank <tspan font-style="italic">P</tspan> = .31</text>
<text x="0" y="0" font-size="8.0" text-anchor="middle" fill="#333" textLength="53.2" lengthAdjust="spacingAndGlyphs" transform="translate(22.20 103.00) rotate(-90)">Survival probability</text>
<text x="0" y="0" font-size="8.0" text-anchor="middle" fill="#333" textLength="53.4" lengthAdjust="spacingAndGlyphs" transform="translate(283.30 97.40) rotate(-90)">Survival probability</text>
<text x="0" y="0" font-size="8.0" text-anchor="middle" fill="#333" textLength="53.0" lengthAdjust="spacingAndGlyphs" transform="translate(22.10 306.90) rotate(-90)">Survival probability</text>
<text x="0" y="0" font-size="8.0" text-anchor="middle" fill="#333" textLength="53.0" lengthAdjust="spacingAndGlyphs" transform="translate(283.30 306.90) rotate(-90)">Survival probability</text>
<text x="121.60" y="184.90" font-size="8.40" text-anchor="start" fill="#333" font-weight="normal" textLength="41.00" lengthAdjust="spacingAndGlyphs" >Time [months]</text>
<text x="382.30" y="184.90" font-size="8.40" text-anchor="start" fill="#333" font-weight="normal" textLength="41.10" lengthAdjust="spacingAndGlyphs" >Time [months]</text>
<text x="121.60" y="387.60" font-size="8.40" text-anchor="start" fill="#333" font-weight="normal" textLength="40.70" lengthAdjust="spacingAndGlyphs" >Time [months]</text>
<text x="382.30" y="387.60" font-size="8.40" text-anchor="start" fill="#333" font-weight="normal" textLength="40.90" lengthAdjust="spacingAndGlyphs" >Time [months]</text>
<rect x="0" y="0" width="520" height="1" fill="#555"/>
<rect x="0" y="0" width="1" height="397" fill="#555"/>
<rect x="0" y="396" width="520" height="1" fill="#4a4a4a"/>
<rect x="0" y="395" width="520" height="1" fill="#4a4a4a" fill-opacity="0.35"/>
<rect x="519" y="0" width="1" height="397" fill="#444"/>
<rect x="518" y="0" width="1" height="397" fill="#444" fill-opacity="0.4"/>
</svg>
</body></html>
